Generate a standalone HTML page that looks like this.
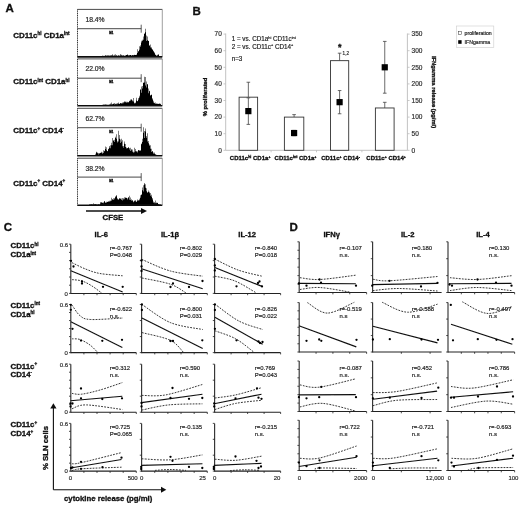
<!DOCTYPE html>
<html><head><meta charset="utf-8"><style>
html,body{margin:0;padding:0;background:#fff;overflow:hidden;}
svg{display:block;will-change:transform;}
text{font-family:"Liberation Sans", sans-serif;stroke:#222;stroke-width:0.18px;}
text[font-weight=bold]{stroke:#111;stroke-width:0.32px;}
</style></head><body>
<svg width="520" height="506" viewBox="0 0 520 506">
<defs><filter id="soft" x="0" y="0" width="1" height="1"><feGaussianBlur stdDeviation="0.35"/></filter></defs>
<rect width="520" height="506" fill="#fff"/>
<g filter="url(#soft)">
<text x="5.6" y="12.4" font-size="11.5" font-weight="bold" fill="#111" >A</text>
<line x1="77.5" y1="9.4" x2="162.3" y2="9.4" stroke="#333" stroke-width="0.9" />
<line x1="162.3" y1="9.4" x2="162.3" y2="56.9" stroke="#888" stroke-width="0.8" />
<line x1="77.5" y1="9.4" x2="77.5" y2="57.4" stroke="#222" stroke-width="0.9" stroke-dasharray="1.2 0.6"/>
<path d="M78 56.9 L78.0 56.90 L78.5 56.90 L78.5 56.90 L79.0 56.90 L79.0 56.90 L79.5 56.90 L79.5 56.90 L80.0 56.90 L80.0 56.90 L80.5 56.90 L80.5 56.90 L81.0 56.90 L81.0 56.90 L81.5 56.90 L81.5 56.90 L82.0 56.90 L82.0 56.90 L82.5 56.90 L82.5 56.90 L83.0 56.90 L83.0 56.90 L83.5 56.90 L83.5 56.90 L84.0 56.90 L84.0 56.90 L84.5 56.90 L84.5 56.90 L85.0 56.90 L85.0 56.90 L85.5 56.90 L85.5 56.90 L86.0 56.90 L86.0 56.90 L86.5 56.90 L86.5 56.90 L87.0 56.90 L87.0 56.90 L87.5 56.90 L87.5 56.90 L88.0 56.90 L88.0 56.90 L88.5 56.90 L88.5 56.90 L89.0 56.90 L89.0 56.90 L89.5 56.90 L89.5 56.90 L90.0 56.90 L90.0 56.90 L90.5 56.90 L90.5 56.90 L91.0 56.90 L91.0 56.90 L91.5 56.90 L91.5 56.90 L92.0 56.90 L92.0 56.90 L92.5 56.90 L92.5 56.90 L93.0 56.90 L93.0 56.90 L93.5 56.90 L93.5 56.90 L94.0 56.90 L94.0 56.90 L94.5 56.90 L94.5 56.90 L95.0 56.90 L95.0 56.90 L95.5 56.90 L95.5 56.90 L96.0 56.90 L96.0 56.90 L96.5 56.90 L96.5 56.90 L97.0 56.90 L97.0 56.90 L97.5 56.90 L97.5 56.90 L98.0 56.90 L98.0 56.90 L98.5 56.90 L98.5 56.90 L99.0 56.90 L99.0 56.90 L99.5 56.90 L99.5 56.90 L100.0 56.90 L100.0 56.90 L100.5 56.90 L100.5 56.90 L101.0 56.90 L101.0 56.47 L101.5 56.47 L101.5 56.26 L102.0 56.26 L102.0 55.90 L102.5 55.90 L102.5 55.38 L103.0 55.38 L103.0 55.84 L103.5 55.84 L103.5 55.93 L104.0 55.93 L104.0 55.73 L104.5 55.73 L104.5 55.99 L105.0 55.99 L105.0 55.35 L105.5 55.35 L105.5 55.55 L106.0 55.55 L106.0 55.63 L106.5 55.63 L106.5 55.42 L107.0 55.42 L107.0 55.57 L107.5 55.57 L107.5 55.61 L108.0 55.61 L108.0 55.47 L108.5 55.47 L108.5 55.58 L109.0 55.58 L109.0 55.47 L109.5 55.47 L109.5 55.82 L110.0 55.82 L110.0 55.59 L110.5 55.59 L110.5 55.48 L111.0 55.48 L111.0 55.35 L111.5 55.35 L111.5 55.52 L112.0 55.52 L112.0 55.38 L112.5 55.38 L112.5 54.32 L113.0 54.32 L113.0 55.49 L113.5 55.49 L113.5 55.71 L114.0 55.71 L114.0 55.87 L114.5 55.87 L114.5 54.87 L115.0 54.87 L115.0 55.80 L115.5 55.80 L115.5 54.32 L116.0 54.32 L116.0 55.55 L116.5 55.55 L116.5 55.36 L117.0 55.36 L117.0 55.66 L117.5 55.66 L117.5 55.79 L118.0 55.79 L118.0 55.74 L118.5 55.74 L118.5 54.96 L119.0 54.96 L119.0 55.66 L119.5 55.66 L119.5 55.47 L120.0 55.47 L120.0 54.12 L120.5 54.12 L120.5 55.39 L121.0 55.39 L121.0 55.38 L121.5 55.38 L121.5 54.81 L122.0 54.81 L122.0 55.70 L122.5 55.70 L122.5 55.25 L123.0 55.25 L123.0 55.54 L123.5 55.54 L123.5 55.24 L124.0 55.24 L124.0 55.63 L124.5 55.63 L124.5 55.70 L125.0 55.70 L125.0 55.21 L125.5 55.21 L125.5 55.69 L126.0 55.69 L126.0 54.89 L126.5 54.89 L126.5 55.09 L127.0 55.09 L127.0 54.25 L127.5 54.25 L127.5 55.04 L128.0 55.04 L128.0 55.53 L128.5 55.53 L128.5 55.16 L129.0 55.16 L129.0 55.46 L129.5 55.46 L129.5 54.97 L130.0 54.97 L130.0 55.08 L130.5 55.08 L130.5 54.99 L131.0 54.99 L131.0 55.63 L131.5 55.63 L131.5 55.13 L132.0 55.13 L132.0 54.93 L132.5 54.93 L132.5 55.35 L133.0 55.35 L133.0 55.46 L133.5 55.46 L133.5 54.92 L134.0 54.92 L134.0 54.77 L134.5 54.77 L134.5 55.07 L135.0 55.07 L135.0 54.99 L135.5 54.99 L135.5 54.94 L136.0 54.94 L136.0 54.79 L136.5 54.79 L136.5 54.79 L137.0 54.79 L137.0 53.11 L137.5 53.11 L137.5 49.30 L138.0 49.30 L138.0 51.18 L138.5 51.18 L138.5 51.33 L139.0 51.33 L139.0 49.67 L139.5 49.67 L139.5 46.27 L140.0 46.27 L140.0 46.63 L140.5 46.63 L140.5 45.22 L141.0 45.22 L141.0 40.64 L141.5 40.64 L141.5 42.46 L142.0 42.46 L142.0 41.01 L142.5 41.01 L142.5 39.66 L143.0 39.66 L143.0 39.66 L143.5 39.66 L143.5 36.50 L144.0 36.50 L144.0 33.26 L144.5 33.26 L144.5 34.06 L145.0 34.06 L145.0 32.26 L145.5 32.26 L145.5 28.64 L146.0 28.64 L146.0 35.52 L146.5 35.52 L146.5 40.95 L147.0 40.95 L147.0 40.27 L147.5 40.27 L147.5 36.53 L148.0 36.53 L148.0 41.05 L148.5 41.05 L148.5 40.78 L149.0 40.78 L149.0 45.21 L149.5 45.21 L149.5 45.67 L150.0 45.67 L150.0 44.59 L150.5 44.59 L150.5 47.42 L151.0 47.42 L151.0 47.13 L151.5 47.13 L151.5 48.52 L152.0 48.52 L152.0 49.14 L152.5 49.14 L152.5 49.70 L153.0 49.70 L153.0 50.78 L153.5 50.78 L153.5 51.46 L154.0 51.46 L154.0 52.13 L154.5 52.13 L154.5 53.16 L155.0 53.16 L155.0 54.69 L155.5 54.69 L155.5 54.67 L156.0 54.67 L156.0 55.60 L156.5 55.60 L156.5 55.83 L157.0 55.83 L157.0 55.50 L157.5 55.50 L157.5 54.70 L158.0 54.70 L158.0 53.90 L158.5 53.90 L158.5 54.94 L159.0 54.94 L159.0 55.91 L159.5 55.91 L159.5 56.38 L160.0 56.38 L160.0 56.45 L160.5 56.45 L160.5 55.93 L161.0 55.93 L161.0 56.90 L161.5 56.90 L161.5 56.90 L162.0 56.90 L162 56.9 Z" stroke="none" stroke-width="0" fill="#000" />
<line x1="77.5" y1="56.9" x2="162.3" y2="56.9" stroke="#111" stroke-width="1.6" />
<line x1="77.5" y1="28.7" x2="141.2" y2="28.7" stroke="#333" stroke-width="0.9" />
<line x1="141.2" y1="24.7" x2="141.2" y2="32.7" stroke="#333" stroke-width="0.8" />
<text x="111.3" y="33.5" font-size="2.9" font-weight="bold" text-anchor="middle" fill="#333" >M1</text>
<text x="85.4" y="21.8" font-size="6.8" fill="#222" >18.4%</text>
<line x1="77.5" y1="58.9" x2="162.3" y2="58.9" stroke="#333" stroke-width="0.9" />
<line x1="162.3" y1="58.9" x2="162.3" y2="105.8" stroke="#888" stroke-width="0.8" />
<line x1="77.5" y1="58.9" x2="77.5" y2="106.3" stroke="#222" stroke-width="0.9" stroke-dasharray="1.2 0.6"/>
<path d="M78 105.8 L78.0 105.80 L78.5 105.80 L78.5 105.80 L79.0 105.80 L79.0 105.80 L79.5 105.80 L79.5 105.80 L80.0 105.80 L80.0 105.80 L80.5 105.80 L80.5 105.80 L81.0 105.80 L81.0 105.80 L81.5 105.80 L81.5 105.80 L82.0 105.80 L82.0 105.80 L82.5 105.80 L82.5 105.80 L83.0 105.80 L83.0 105.80 L83.5 105.80 L83.5 105.80 L84.0 105.80 L84.0 105.80 L84.5 105.80 L84.5 105.80 L85.0 105.80 L85.0 105.80 L85.5 105.80 L85.5 105.80 L86.0 105.80 L86.0 105.80 L86.5 105.80 L86.5 105.80 L87.0 105.80 L87.0 105.80 L87.5 105.80 L87.5 105.80 L88.0 105.80 L88.0 105.80 L88.5 105.80 L88.5 105.80 L89.0 105.80 L89.0 105.80 L89.5 105.80 L89.5 105.80 L90.0 105.80 L90.0 105.80 L90.5 105.80 L90.5 105.80 L91.0 105.80 L91.0 105.80 L91.5 105.80 L91.5 105.80 L92.0 105.80 L92.0 105.80 L92.5 105.80 L92.5 105.80 L93.0 105.80 L93.0 105.80 L93.5 105.80 L93.5 105.80 L94.0 105.80 L94.0 105.80 L94.5 105.80 L94.5 105.80 L95.0 105.80 L95.0 105.80 L95.5 105.80 L95.5 105.80 L96.0 105.80 L96.0 105.80 L96.5 105.80 L96.5 105.80 L97.0 105.80 L97.0 105.80 L97.5 105.80 L97.5 105.80 L98.0 105.80 L98.0 105.80 L98.5 105.80 L98.5 105.80 L99.0 105.80 L99.0 105.80 L99.5 105.80 L99.5 105.80 L100.0 105.80 L100.0 105.80 L100.5 105.80 L100.5 105.80 L101.0 105.80 L101.0 105.80 L101.5 105.80 L101.5 105.80 L102.0 105.80 L102.0 105.51 L102.5 105.51 L102.5 104.70 L103.0 104.70 L103.0 104.47 L103.5 104.47 L103.5 104.70 L104.0 104.70 L104.0 104.99 L104.5 104.99 L104.5 104.25 L105.0 104.25 L105.0 104.49 L105.5 104.49 L105.5 104.54 L106.0 104.54 L106.0 104.76 L106.5 104.76 L106.5 104.50 L107.0 104.50 L107.0 104.63 L107.5 104.63 L107.5 104.82 L108.0 104.82 L108.0 104.63 L108.5 104.63 L108.5 104.73 L109.0 104.73 L109.0 104.38 L109.5 104.38 L109.5 104.49 L110.0 104.49 L110.0 103.62 L110.5 103.62 L110.5 104.39 L111.0 104.39 L111.0 102.59 L111.5 102.59 L111.5 104.39 L112.0 104.39 L112.0 104.38 L112.5 104.38 L112.5 103.93 L113.0 103.93 L113.0 104.08 L113.5 104.08 L113.5 103.59 L114.0 103.59 L114.0 104.47 L114.5 104.47 L114.5 103.08 L115.0 103.08 L115.0 103.79 L115.5 103.79 L115.5 104.24 L116.0 104.24 L116.0 104.28 L116.5 104.28 L116.5 103.57 L117.0 103.57 L117.0 104.14 L117.5 104.14 L117.5 102.88 L118.0 102.88 L118.0 103.83 L118.5 103.83 L118.5 102.51 L119.0 102.51 L119.0 103.67 L119.5 103.67 L119.5 103.97 L120.0 103.97 L120.0 103.26 L120.5 103.26 L120.5 103.06 L121.0 103.06 L121.0 103.26 L121.5 103.26 L121.5 103.46 L122.0 103.46 L122.0 103.50 L122.5 103.50 L122.5 102.61 L123.0 102.61 L123.0 103.19 L123.5 103.19 L123.5 102.07 L124.0 102.07 L124.0 102.32 L124.5 102.32 L124.5 101.35 L125.0 101.35 L125.0 102.29 L125.5 102.29 L125.5 101.55 L126.0 101.55 L126.0 101.79 L126.5 101.79 L126.5 102.78 L127.0 102.78 L127.0 101.78 L127.5 101.78 L127.5 102.49 L128.0 102.49 L128.0 102.38 L128.5 102.38 L128.5 102.04 L129.0 102.04 L129.0 101.31 L129.5 101.31 L129.5 100.71 L130.0 100.71 L130.0 100.64 L130.5 100.64 L130.5 99.40 L131.0 99.40 L131.0 99.91 L131.5 99.91 L131.5 99.11 L132.0 99.11 L132.0 101.24 L132.5 101.24 L132.5 100.14 L133.0 100.14 L133.0 101.60 L133.5 101.60 L133.5 98.05 L134.0 98.05 L134.0 102.78 L134.5 102.78 L134.5 103.52 L135.0 103.52 L135.0 102.51 L135.5 102.51 L135.5 103.32 L136.0 103.32 L136.0 100.45 L136.5 100.45 L136.5 97.64 L137.0 97.64 L137.0 101.22 L137.5 101.22 L137.5 100.92 L138.0 100.92 L138.0 99.74 L138.5 99.74 L138.5 98.06 L139.0 98.06 L139.0 97.39 L139.5 97.39 L139.5 95.85 L140.0 95.85 L140.0 89.01 L140.5 89.01 L140.5 90.12 L141.0 90.12 L141.0 92.70 L141.5 92.70 L141.5 86.56 L142.0 86.56 L142.0 88.45 L142.5 88.45 L142.5 85.99 L143.0 85.99 L143.0 82.62 L143.5 82.62 L143.5 83.02 L144.0 83.02 L144.0 82.54 L144.5 82.54 L144.5 76.65 L145.0 76.65 L145.0 77.07 L145.5 77.07 L145.5 85.55 L146.0 85.55 L146.0 87.41 L146.5 87.41 L146.5 81.38 L147.0 81.38 L147.0 84.06 L147.5 84.06 L147.5 84.52 L148.0 84.52 L148.0 88.62 L148.5 88.62 L148.5 93.33 L149.0 93.33 L149.0 91.23 L149.5 91.23 L149.5 90.70 L150.0 90.70 L150.0 95.13 L150.5 95.13 L150.5 95.42 L151.0 95.42 L151.0 95.12 L151.5 95.12 L151.5 94.52 L152.0 94.52 L152.0 98.19 L152.5 98.19 L152.5 99.53 L153.0 99.53 L153.0 100.70 L153.5 100.70 L153.5 102.48 L154.0 102.48 L154.0 103.18 L154.5 103.18 L154.5 102.73 L155.0 102.73 L155.0 102.51 L155.5 102.51 L155.5 103.96 L156.0 103.96 L156.0 103.55 L156.5 103.55 L156.5 103.75 L157.0 103.75 L157.0 103.47 L157.5 103.47 L157.5 103.96 L158.0 103.96 L158.0 103.79 L158.5 103.79 L158.5 104.09 L159.0 104.09 L159.0 103.97 L159.5 103.97 L159.5 103.24 L160.0 103.24 L160.0 104.36 L160.5 104.36 L160.5 103.72 L161.0 103.72 L161.0 105.80 L161.5 105.80 L161.5 105.80 L162.0 105.80 L162 105.8 Z" stroke="none" stroke-width="0" fill="#000" />
<line x1="77.5" y1="105.8" x2="162.3" y2="105.8" stroke="#111" stroke-width="1.6" />
<line x1="77.5" y1="78.2" x2="141.2" y2="78.2" stroke="#333" stroke-width="0.9" />
<line x1="141.2" y1="74.2" x2="141.2" y2="82.2" stroke="#333" stroke-width="0.8" />
<text x="111.3" y="83.0" font-size="2.9" font-weight="bold" text-anchor="middle" fill="#333" >M1</text>
<text x="85.4" y="71.3" font-size="6.8" fill="#222" >22.0%</text>
<line x1="77.5" y1="108.3" x2="162.3" y2="108.3" stroke="#333" stroke-width="0.9" />
<line x1="162.3" y1="108.3" x2="162.3" y2="155.8" stroke="#888" stroke-width="0.8" />
<line x1="77.5" y1="108.3" x2="77.5" y2="156.3" stroke="#222" stroke-width="0.9" stroke-dasharray="1.2 0.6"/>
<path d="M78 155.8 L78.0 155.80 L78.5 155.80 L78.5 155.80 L79.0 155.80 L79.0 155.80 L79.5 155.80 L79.5 155.80 L80.0 155.80 L80.0 155.80 L80.5 155.80 L80.5 155.80 L81.0 155.80 L81.0 155.80 L81.5 155.80 L81.5 155.80 L82.0 155.80 L82.0 155.80 L82.5 155.80 L82.5 155.80 L83.0 155.80 L83.0 155.80 L83.5 155.80 L83.5 155.80 L84.0 155.80 L84.0 155.80 L84.5 155.80 L84.5 155.80 L85.0 155.80 L85.0 155.80 L85.5 155.80 L85.5 155.80 L86.0 155.80 L86.0 155.80 L86.5 155.80 L86.5 155.80 L87.0 155.80 L87.0 155.80 L87.5 155.80 L87.5 155.80 L88.0 155.80 L88.0 155.80 L88.5 155.80 L88.5 155.80 L89.0 155.80 L89.0 155.80 L89.5 155.80 L89.5 155.80 L90.0 155.80 L90.0 155.80 L90.5 155.80 L90.5 155.80 L91.0 155.80 L91.0 155.80 L91.5 155.80 L91.5 155.80 L92.0 155.80 L92.0 155.80 L92.5 155.80 L92.5 155.80 L93.0 155.80 L93.0 155.80 L93.5 155.80 L93.5 155.80 L94.0 155.80 L94.0 155.80 L94.5 155.80 L94.5 155.80 L95.0 155.80 L95.0 155.24 L95.5 155.24 L95.5 153.76 L96.0 153.76 L96.0 151.67 L96.5 151.67 L96.5 152.39 L97.0 152.39 L97.0 153.22 L97.5 153.22 L97.5 152.57 L98.0 152.57 L98.0 154.47 L98.5 154.47 L98.5 153.10 L99.0 153.10 L99.0 152.92 L99.5 152.92 L99.5 153.63 L100.0 153.63 L100.0 152.87 L100.5 152.87 L100.5 153.09 L101.0 153.09 L101.0 151.83 L101.5 151.83 L101.5 152.81 L102.0 152.81 L102.0 152.45 L102.5 152.45 L102.5 153.84 L103.0 153.84 L103.0 153.03 L103.5 153.03 L103.5 150.36 L104.0 150.36 L104.0 151.31 L104.5 151.31 L104.5 150.82 L105.0 150.82 L105.0 149.08 L105.5 149.08 L105.5 146.54 L106.0 146.54 L106.0 147.16 L106.5 147.16 L106.5 150.19 L107.0 150.19 L107.0 150.99 L107.5 150.99 L107.5 151.18 L108.0 151.18 L108.0 148.63 L108.5 148.63 L108.5 149.13 L109.0 149.13 L109.0 147.78 L109.5 147.78 L109.5 145.94 L110.0 145.94 L110.0 148.19 L110.5 148.19 L110.5 145.13 L111.0 145.13 L111.0 145.30 L111.5 145.30 L111.5 142.77 L112.0 142.77 L112.0 145.26 L112.5 145.26 L112.5 137.88 L113.0 137.88 L113.0 139.99 L113.5 139.99 L113.5 140.95 L114.0 140.95 L114.0 139.77 L114.5 139.77 L114.5 141.94 L115.0 141.94 L115.0 137.92 L115.5 137.92 L115.5 136.67 L116.0 136.67 L116.0 138.65 L116.5 138.65 L116.5 134.35 L117.0 134.35 L117.0 142.38 L117.5 142.38 L117.5 141.33 L118.0 141.33 L118.0 141.45 L118.5 141.45 L118.5 130.73 L119.0 130.73 L119.0 138.83 L119.5 138.83 L119.5 134.96 L120.0 134.96 L120.0 142.94 L120.5 142.94 L120.5 139.48 L121.0 139.48 L121.0 138.64 L121.5 138.64 L121.5 141.76 L122.0 141.76 L122.0 140.25 L122.5 140.25 L122.5 146.17 L123.0 146.17 L123.0 146.12 L123.5 146.12 L123.5 147.80 L124.0 147.80 L124.0 143.77 L124.5 143.77 L124.5 141.58 L125.0 141.58 L125.0 147.06 L125.5 147.06 L125.5 143.89 L126.0 143.89 L126.0 147.50 L126.5 147.50 L126.5 148.52 L127.0 148.52 L127.0 148.29 L127.5 148.29 L127.5 147.97 L128.0 147.97 L128.0 146.98 L128.5 146.98 L128.5 147.77 L129.0 147.77 L129.0 149.58 L129.5 149.58 L129.5 147.95 L130.0 147.95 L130.0 150.99 L130.5 150.99 L130.5 147.73 L131.0 147.73 L131.0 150.24 L131.5 150.24 L131.5 149.08 L132.0 149.08 L132.0 149.50 L132.5 149.50 L132.5 151.84 L133.0 151.84 L133.0 152.63 L133.5 152.63 L133.5 151.72 L134.0 151.72 L134.0 147.69 L134.5 147.69 L134.5 152.14 L135.0 152.14 L135.0 151.34 L135.5 151.34 L135.5 148.97 L136.0 148.97 L136.0 151.67 L136.5 151.67 L136.5 150.94 L137.0 150.94 L137.0 151.24 L137.5 151.24 L137.5 152.47 L138.0 152.47 L138.0 150.15 L138.5 150.15 L138.5 150.02 L139.0 150.02 L139.0 150.59 L139.5 150.59 L139.5 150.58 L140.0 150.58 L140.0 150.15 L140.5 150.15 L140.5 150.70 L141.0 150.70 L141.0 144.35 L141.5 144.35 L141.5 143.40 L142.0 143.40 L142.0 142.12 L142.5 142.12 L142.5 138.77 L143.0 138.77 L143.0 132.83 L143.5 132.83 L143.5 127.23 L144.0 127.23 L144.0 137.92 L144.5 137.92 L144.5 131.04 L145.0 131.04 L145.0 131.58 L145.5 131.58 L145.5 128.54 L146.0 128.54 L146.0 136.02 L146.5 136.02 L146.5 137.78 L147.0 137.78 L147.0 133.17 L147.5 133.17 L147.5 141.54 L148.0 141.54 L148.0 141.11 L148.5 141.11 L148.5 143.21 L149.0 143.21 L149.0 144.62 L149.5 144.62 L149.5 145.85 L150.0 145.85 L150.0 145.24 L150.5 145.24 L150.5 148.65 L151.0 148.65 L151.0 148.81 L151.5 148.81 L151.5 151.89 L152.0 151.89 L152.0 151.05 L152.5 151.05 L152.5 151.58 L153.0 151.58 L153.0 152.59 L153.5 152.59 L153.5 153.66 L154.0 153.66 L154.0 152.39 L154.5 152.39 L154.5 153.72 L155.0 153.72 L155.0 154.47 L155.5 154.47 L155.5 154.25 L156.0 154.25 L156.0 154.82 L156.5 154.82 L156.5 155.04 L157.0 155.04 L157.0 155.17 L157.5 155.17 L157.5 155.18 L158.0 155.18 L158.0 155.21 L158.5 155.21 L158.5 155.40 L159.0 155.40 L159.0 155.19 L159.5 155.19 L159.5 155.31 L160.0 155.31 L160.0 155.40 L160.5 155.40 L160.5 155.22 L161.0 155.22 L161.0 155.80 L161.5 155.80 L161.5 155.80 L162.0 155.80 L162 155.8 Z" stroke="none" stroke-width="0" fill="#000" />
<line x1="77.5" y1="155.8" x2="162.3" y2="155.8" stroke="#111" stroke-width="1.6" />
<line x1="77.5" y1="127.7" x2="141.2" y2="127.7" stroke="#333" stroke-width="0.9" />
<line x1="141.2" y1="123.7" x2="141.2" y2="131.7" stroke="#333" stroke-width="0.8" />
<text x="111.3" y="132.5" font-size="2.9" font-weight="bold" text-anchor="middle" fill="#333" >M1</text>
<text x="85.4" y="120.7" font-size="6.8" fill="#222" >62.7%</text>
<line x1="77.5" y1="158.2" x2="162.3" y2="158.2" stroke="#333" stroke-width="0.9" />
<line x1="162.3" y1="158.2" x2="162.3" y2="205.2" stroke="#888" stroke-width="0.8" />
<line x1="77.5" y1="158.2" x2="77.5" y2="205.7" stroke="#222" stroke-width="0.9" stroke-dasharray="1.2 0.6"/>
<path d="M78 205.2 L78.0 205.20 L78.5 205.20 L78.5 205.20 L79.0 205.20 L79.0 205.20 L79.5 205.20 L79.5 205.20 L80.0 205.20 L80.0 205.20 L80.5 205.20 L80.5 205.20 L81.0 205.20 L81.0 205.20 L81.5 205.20 L81.5 205.20 L82.0 205.20 L82.0 205.20 L82.5 205.20 L82.5 205.20 L83.0 205.20 L83.0 205.20 L83.5 205.20 L83.5 205.20 L84.0 205.20 L84.0 205.20 L84.5 205.20 L84.5 205.20 L85.0 205.20 L85.0 205.20 L85.5 205.20 L85.5 205.20 L86.0 205.20 L86.0 205.20 L86.5 205.20 L86.5 205.20 L87.0 205.20 L87.0 205.20 L87.5 205.20 L87.5 205.20 L88.0 205.20 L88.0 205.09 L88.5 205.09 L88.5 204.88 L89.0 204.88 L89.0 204.61 L89.5 204.61 L89.5 204.60 L90.0 204.60 L90.0 204.43 L90.5 204.43 L90.5 204.34 L91.0 204.34 L91.0 204.00 L91.5 204.00 L91.5 204.48 L92.0 204.48 L92.0 204.38 L92.5 204.38 L92.5 204.23 L93.0 204.23 L93.0 204.50 L93.5 204.50 L93.5 203.17 L94.0 203.17 L94.0 204.12 L94.5 204.12 L94.5 204.44 L95.0 204.44 L95.0 204.14 L95.5 204.14 L95.5 204.03 L96.0 204.03 L96.0 204.38 L96.5 204.38 L96.5 204.16 L97.0 204.16 L97.0 204.46 L97.5 204.46 L97.5 204.44 L98.0 204.44 L98.0 203.98 L98.5 203.98 L98.5 204.46 L99.0 204.46 L99.0 204.16 L99.5 204.16 L99.5 204.47 L100.0 204.47 L100.0 203.55 L100.5 203.55 L100.5 202.06 L101.0 202.06 L101.0 202.24 L101.5 202.24 L101.5 202.62 L102.0 202.62 L102.0 202.85 L102.5 202.85 L102.5 202.84 L103.0 202.84 L103.0 203.16 L103.5 203.16 L103.5 202.31 L104.0 202.31 L104.0 201.57 L104.5 201.57 L104.5 201.01 L105.0 201.01 L105.0 202.32 L105.5 202.32 L105.5 202.91 L106.0 202.91 L106.0 201.73 L106.5 201.73 L106.5 202.77 L107.0 202.77 L107.0 201.91 L107.5 201.91 L107.5 201.63 L108.0 201.63 L108.0 200.90 L108.5 200.90 L108.5 202.09 L109.0 202.09 L109.0 200.63 L109.5 200.63 L109.5 201.87 L110.0 201.87 L110.0 201.24 L110.5 201.24 L110.5 200.45 L111.0 200.45 L111.0 197.74 L111.5 197.74 L111.5 200.81 L112.0 200.81 L112.0 199.07 L112.5 199.07 L112.5 199.74 L113.0 199.74 L113.0 200.12 L113.5 200.12 L113.5 198.31 L114.0 198.31 L114.0 197.92 L114.5 197.92 L114.5 199.13 L115.0 199.13 L115.0 197.26 L115.5 197.26 L115.5 196.16 L116.0 196.16 L116.0 194.89 L116.5 194.89 L116.5 196.28 L117.0 196.28 L117.0 198.36 L117.5 198.36 L117.5 199.14 L118.0 199.14 L118.0 199.50 L118.5 199.50 L118.5 199.61 L119.0 199.61 L119.0 198.46 L119.5 198.46 L119.5 198.24 L120.0 198.24 L120.0 198.75 L120.5 198.75 L120.5 198.38 L121.0 198.38 L121.0 200.05 L121.5 200.05 L121.5 198.54 L122.0 198.54 L122.0 197.95 L122.5 197.95 L122.5 200.47 L123.0 200.47 L123.0 198.35 L123.5 198.35 L123.5 199.58 L124.0 199.58 L124.0 199.21 L124.5 199.21 L124.5 197.21 L125.0 197.21 L125.0 198.01 L125.5 198.01 L125.5 197.31 L126.0 197.31 L126.0 197.87 L126.5 197.87 L126.5 197.96 L127.0 197.96 L127.0 198.37 L127.5 198.37 L127.5 199.49 L128.0 199.49 L128.0 197.32 L128.5 197.32 L128.5 197.62 L129.0 197.62 L129.0 195.65 L129.5 195.65 L129.5 199.80 L130.0 199.80 L130.0 197.50 L130.5 197.50 L130.5 199.91 L131.0 199.91 L131.0 199.22 L131.5 199.22 L131.5 200.86 L132.0 200.86 L132.0 199.89 L132.5 199.89 L132.5 200.67 L133.0 200.67 L133.0 201.49 L133.5 201.49 L133.5 202.23 L134.0 202.23 L134.0 201.26 L134.5 201.26 L134.5 200.38 L135.0 200.38 L135.0 201.18 L135.5 201.18 L135.5 199.88 L136.0 199.88 L136.0 201.90 L136.5 201.90 L136.5 201.56 L137.0 201.56 L137.0 199.38 L137.5 199.38 L137.5 200.83 L138.0 200.83 L138.0 200.70 L138.5 200.70 L138.5 199.92 L139.0 199.92 L139.0 198.77 L139.5 198.77 L139.5 200.35 L140.0 200.35 L140.0 195.25 L140.5 195.25 L140.5 197.64 L141.0 197.64 L141.0 195.05 L141.5 195.05 L141.5 194.23 L142.0 194.23 L142.0 190.18 L142.5 190.18 L142.5 187.57 L143.0 187.57 L143.0 191.41 L143.5 191.41 L143.5 185.14 L144.0 185.14 L144.0 182.88 L144.5 182.88 L144.5 184.60 L145.0 184.60 L145.0 184.14 L145.5 184.14 L145.5 187.74 L146.0 187.74 L146.0 188.16 L146.5 188.16 L146.5 191.31 L147.0 191.31 L147.0 192.63 L147.5 192.63 L147.5 192.13 L148.0 192.13 L148.0 191.92 L148.5 191.92 L148.5 190.56 L149.0 190.56 L149.0 193.19 L149.5 193.19 L149.5 191.81 L150.0 191.81 L150.0 193.12 L150.5 193.12 L150.5 195.80 L151.0 195.80 L151.0 194.69 L151.5 194.69 L151.5 196.70 L152.0 196.70 L152.0 199.47 L152.5 199.47 L152.5 198.01 L153.0 198.01 L153.0 201.55 L153.5 201.55 L153.5 202.66 L154.0 202.66 L154.0 201.95 L154.5 201.95 L154.5 203.19 L155.0 203.19 L155.0 203.29 L155.5 203.29 L155.5 200.49 L156.0 200.49 L156.0 203.36 L156.5 203.36 L156.5 202.56 L157.0 202.56 L157.0 202.74 L157.5 202.74 L157.5 203.09 L158.0 203.09 L158.0 203.98 L158.5 203.98 L158.5 204.34 L159.0 204.34 L159.0 204.51 L159.5 204.51 L159.5 204.32 L160.0 204.32 L160.0 204.42 L160.5 204.42 L160.5 204.57 L161.0 204.57 L161.0 205.20 L161.5 205.20 L161.5 205.20 L162.0 205.20 L162 205.2 Z" stroke="none" stroke-width="0" fill="#000" />
<line x1="77.5" y1="205.2" x2="162.3" y2="205.2" stroke="#111" stroke-width="1.6" />
<line x1="77.5" y1="177.1" x2="141.2" y2="177.1" stroke="#333" stroke-width="0.9" />
<line x1="141.2" y1="173.1" x2="141.2" y2="181.1" stroke="#333" stroke-width="0.8" />
<text x="111.3" y="181.9" font-size="2.9" font-weight="bold" text-anchor="middle" fill="#333" >M1</text>
<text x="85.4" y="170.6" font-size="6.8" fill="#222" >38.2%</text>
<text x="13.2" y="37.9" font-size="7.95" font-weight="bold" fill="#111">CD11c<tspan font-size="4.5" dy="-2.50">hi</tspan><tspan dy="2.50"> CD1a</tspan><tspan font-size="4.5" dy="-2.50">int</tspan></text>
<text x="13.2" y="84.0" font-size="7.95" font-weight="bold" fill="#111">CD11c<tspan font-size="4.5" dy="-2.50">int</tspan><tspan dy="2.50"> CD1a</tspan><tspan font-size="4.5" dy="-2.50">hi</tspan></text>
<text x="13.2" y="133.0" font-size="7.95" font-weight="bold" fill="#111">CD11c<tspan font-size="4.5" dy="-3.38">+</tspan><tspan dy="3.38"> CD14</tspan><tspan font-size="4.5" dy="-3.38">-</tspan></text>
<text x="13.2" y="185.6" font-size="7.95" font-weight="bold" fill="#111">CD11c<tspan font-size="4.5" dy="-3.38">+</tspan><tspan dy="3.38"> CD14</tspan><tspan font-size="4.5" dy="-3.38">+</tspan></text>
<line x1="86" y1="211" x2="143" y2="211" stroke="#111" stroke-width="1.6" />
<path d="M141 208 L147 211 L141 214 Z" stroke="none" stroke-width="0" fill="#111" />
<text x="112.9" y="220" font-size="7.8" font-weight="bold" text-anchor="middle" fill="#111" >CFSE</text>
<text x="192.6" y="14.7" font-size="11.5" font-weight="bold" fill="#111" >B</text>
<line x1="225.7" y1="33.5" x2="225.7" y2="150.3" stroke="#bbb" stroke-width="0.9" />
<line x1="407.4" y1="33.5" x2="407.4" y2="150.3" stroke="#bbb" stroke-width="0.9" />
<line x1="225.7" y1="150.3" x2="407.4" y2="150.3" stroke="#bbb" stroke-width="0.9" />
<line x1="223.5" y1="150.3" x2="225.7" y2="150.3" stroke="#bbb" stroke-width="0.8" />
<text x="221.8" y="152.60000000000002" font-size="6.5" text-anchor="end" fill="#333" >0</text>
<line x1="223.5" y1="133.70000000000002" x2="225.7" y2="133.70000000000002" stroke="#bbb" stroke-width="0.8" />
<text x="221.8" y="136.00000000000003" font-size="6.5" text-anchor="end" fill="#333" >10</text>
<line x1="223.5" y1="117.10000000000001" x2="225.7" y2="117.10000000000001" stroke="#bbb" stroke-width="0.8" />
<text x="221.8" y="119.4" font-size="6.5" text-anchor="end" fill="#333" >20</text>
<line x1="223.5" y1="100.5" x2="225.7" y2="100.5" stroke="#bbb" stroke-width="0.8" />
<text x="221.8" y="102.8" font-size="6.5" text-anchor="end" fill="#333" >30</text>
<line x1="223.5" y1="83.9" x2="225.7" y2="83.9" stroke="#bbb" stroke-width="0.8" />
<text x="221.8" y="86.2" font-size="6.5" text-anchor="end" fill="#333" >40</text>
<line x1="223.5" y1="67.30000000000001" x2="225.7" y2="67.30000000000001" stroke="#bbb" stroke-width="0.8" />
<text x="221.8" y="69.60000000000001" font-size="6.5" text-anchor="end" fill="#333" >50</text>
<line x1="223.5" y1="50.7" x2="225.7" y2="50.7" stroke="#bbb" stroke-width="0.8" />
<text x="221.8" y="53.0" font-size="6.5" text-anchor="end" fill="#333" >60</text>
<line x1="223.5" y1="34.099999999999994" x2="225.7" y2="34.099999999999994" stroke="#bbb" stroke-width="0.8" />
<text x="221.8" y="36.39999999999999" font-size="6.5" text-anchor="end" fill="#333" >70</text>
<line x1="407.4" y1="150.3" x2="409.6" y2="150.3" stroke="#bbb" stroke-width="0.8" />
<text x="411.6" y="152.60000000000002" font-size="6.5" fill="#333" >0</text>
<line x1="407.4" y1="133.70000000000002" x2="409.6" y2="133.70000000000002" stroke="#bbb" stroke-width="0.8" />
<text x="411.6" y="136.00000000000003" font-size="6.5" fill="#333" >50</text>
<line x1="407.4" y1="117.10000000000001" x2="409.6" y2="117.10000000000001" stroke="#bbb" stroke-width="0.8" />
<text x="411.6" y="119.4" font-size="6.5" fill="#333" >100</text>
<line x1="407.4" y1="100.5" x2="409.6" y2="100.5" stroke="#bbb" stroke-width="0.8" />
<text x="411.6" y="102.8" font-size="6.5" fill="#333" >150</text>
<line x1="407.4" y1="83.9" x2="409.6" y2="83.9" stroke="#bbb" stroke-width="0.8" />
<text x="411.6" y="86.2" font-size="6.5" fill="#333" >200</text>
<line x1="407.4" y1="67.30000000000001" x2="409.6" y2="67.30000000000001" stroke="#bbb" stroke-width="0.8" />
<text x="411.6" y="69.60000000000001" font-size="6.5" fill="#333" >250</text>
<line x1="407.4" y1="50.7" x2="409.6" y2="50.7" stroke="#bbb" stroke-width="0.8" />
<text x="411.6" y="53.0" font-size="6.5" fill="#333" >300</text>
<line x1="407.4" y1="34.10000000000001" x2="409.6" y2="34.10000000000001" stroke="#bbb" stroke-width="0.8" />
<text x="411.6" y="36.400000000000006" font-size="6.5" fill="#333" >350</text>
<line x1="271.1" y1="150.3" x2="271.1" y2="152.3" stroke="#bbb" stroke-width="0.8" />
<line x1="316.5" y1="150.3" x2="316.5" y2="152.3" stroke="#bbb" stroke-width="0.8" />
<line x1="361.9" y1="150.3" x2="361.9" y2="152.3" stroke="#bbb" stroke-width="0.8" />
<text x="0" y="0" font-size="5.8" font-weight="bold" text-anchor="middle" fill="#111" transform="translate(207 97) rotate(-90)">% proliferated</text>
<text x="0" y="0" font-size="5.8" font-weight="bold" text-anchor="middle" fill="#111" transform="translate(431.5 92) rotate(90)">IFNgamma release (pg/ml)</text>
<rect x="239.1" y="97.18" width="18.50" height="53.12" fill="#fff" stroke="#333" stroke-width="0.9"/>
<line x1="248.35000000000002" y1="82.24000000000001" x2="248.35000000000002" y2="97.18" stroke="#444" stroke-width="0.8" />
<line x1="246.55" y1="82.24000000000001" x2="250.15000000000003" y2="82.24000000000001" stroke="#444" stroke-width="0.8" />
<rect x="284.4" y="117.10" width="19.40" height="33.20" fill="#fff" stroke="#333" stroke-width="0.9"/>
<line x1="294.1" y1="114.61000000000001" x2="294.1" y2="117.10000000000001" stroke="#444" stroke-width="0.8" />
<line x1="292.3" y1="114.61000000000001" x2="295.90000000000003" y2="114.61000000000001" stroke="#444" stroke-width="0.8" />
<rect x="330.5" y="60.66" width="18.20" height="89.64" fill="#fff" stroke="#333" stroke-width="0.9"/>
<line x1="339.6" y1="53.19" x2="339.6" y2="60.66" stroke="#444" stroke-width="0.8" />
<line x1="337.8" y1="53.19" x2="341.40000000000003" y2="53.19" stroke="#444" stroke-width="0.8" />
<rect x="375.4" y="107.97" width="18.70" height="42.33" fill="#fff" stroke="#333" stroke-width="0.9"/>
<line x1="384.75" y1="102.326" x2="384.75" y2="107.97" stroke="#444" stroke-width="0.8" />
<line x1="382.95" y1="102.326" x2="386.55" y2="102.326" stroke="#444" stroke-width="0.8" />
<line x1="248.35000000000002" y1="97.84400000000001" x2="248.35000000000002" y2="124.40400000000001" stroke="#444" stroke-width="0.8" />
<line x1="246.55" y1="97.84400000000001" x2="250.15000000000003" y2="97.84400000000001" stroke="#444" stroke-width="0.8" />
<line x1="246.55" y1="124.40400000000001" x2="250.15000000000003" y2="124.40400000000001" stroke="#444" stroke-width="0.8" />
<rect x="245.25" y="108.02" width="6.2" height="6.2" fill="#000"/>
<line x1="294.1" y1="130.38" x2="294.1" y2="135.692" stroke="#444" stroke-width="0.8" />
<line x1="292.3" y1="130.38" x2="295.90000000000003" y2="130.38" stroke="#444" stroke-width="0.8" />
<line x1="292.3" y1="135.692" x2="295.90000000000003" y2="135.692" stroke="#444" stroke-width="0.8" />
<rect x="291.00" y="129.94" width="6.2" height="6.2" fill="#000"/>
<line x1="339.6" y1="90.54" x2="339.6" y2="113.78000000000002" stroke="#444" stroke-width="0.8" />
<line x1="337.8" y1="90.54" x2="341.40000000000003" y2="90.54" stroke="#444" stroke-width="0.8" />
<line x1="337.8" y1="113.78000000000002" x2="341.40000000000003" y2="113.78000000000002" stroke="#444" stroke-width="0.8" />
<rect x="336.50" y="99.06" width="6.2" height="6.2" fill="#000"/>
<line x1="384.75" y1="41.40400000000001" x2="384.75" y2="93.19600000000001" stroke="#444" stroke-width="0.8" />
<line x1="382.95" y1="41.40400000000001" x2="386.55" y2="41.40400000000001" stroke="#444" stroke-width="0.8" />
<line x1="382.95" y1="93.19600000000001" x2="386.55" y2="93.19600000000001" stroke="#444" stroke-width="0.8" />
<rect x="381.65" y="64.20" width="6.2" height="6.2" fill="#000"/>
<text x="339.8" y="49.5" font-size="9" font-weight="bold" text-anchor="middle" fill="#111" >*</text>
<text x="342.6" y="55.2" font-size="4.6" fill="#333" >1,2</text>
<rect x="456.4" y="26" width="37.4" height="21.5" fill="#fff" stroke="#ccc" stroke-width="0.6"/>
<rect x="458.3" y="31.4" width="3.2" height="3.2" fill="#fff" stroke="#333" stroke-width="0.5"/>
<text x="464.6" y="35.0" font-size="5.2" fill="#222" >proliferation</text>
<rect x="458.2" y="40.2" width="3.4" height="3.6" fill="#000"/>
<text x="464.6" y="44.0" font-size="5.2" fill="#222" >IFNgamma</text>
<text x="231.7" y="41.4" font-size="6.3" fill="#222">1 = vs. CD1a<tspan font-size="3.8" dy="-2.4">hi</tspan><tspan dy="2.4"> CD11c</tspan><tspan font-size="3.8" dy="-2.4">int</tspan></text>
<text x="231.7" y="48.5" font-size="6.3" fill="#222">2 = vs. CD11c<tspan font-size="3.8" dy="-2.4">+</tspan><tspan dy="2.4"> CD14</tspan><tspan font-size="3.8" dy="-2.4">+</tspan></text>
<text x="231.7" y="60.7" font-size="6.3" fill="#222" >n=3</text>
<text x="229.8" y="160.2" font-size="6" font-weight="bold" fill="#111">CD11c<tspan font-size="3.6" dy="-2.00">hi</tspan><tspan dy="2.00"> CD1a</tspan><tspan font-size="3.6" dy="-2.70">+</tspan></text>
<text x="274.6" y="160.2" font-size="6" font-weight="bold" fill="#111">CD11c<tspan font-size="3.6" dy="-2.00">int</tspan><tspan dy="2.00"> CD1a</tspan><tspan font-size="3.6" dy="-2.70">+</tspan></text>
<text x="321.2" y="160.2" font-size="6" font-weight="bold" fill="#111">CD11c<tspan font-size="3.6" dy="-2.70">+</tspan><tspan dy="2.70"> CD14</tspan><tspan font-size="3.6" dy="-2.70">-</tspan></text>
<text x="366.3" y="160.2" font-size="6" font-weight="bold" fill="#111">CD11c<tspan font-size="3.6" dy="-2.70">+</tspan><tspan dy="2.70"> CD14</tspan><tspan font-size="3.6" dy="-2.70">+</tspan></text>
<text x="3.8" y="231" font-size="11.5" font-weight="bold" fill="#111" >C</text>
<text x="289.6" y="231.2" font-size="11.5" font-weight="bold" fill="#111" >D</text>
<text x="101.3" y="237.1" font-size="7.6" font-weight="bold" text-anchor="middle" fill="#111" >IL-6</text>
<text x="170" y="237.1" font-size="7.6" font-weight="bold" text-anchor="middle" fill="#111" >IL-1&#946;</text>
<text x="247.2" y="237.1" font-size="7.6" font-weight="bold" text-anchor="middle" fill="#111" >IL-12</text>
<text x="331.7" y="237.1" font-size="7.6" font-weight="bold" text-anchor="middle" fill="#111" >IFN&#947;</text>
<text x="407.7" y="237.1" font-size="7.6" font-weight="bold" text-anchor="middle" fill="#111" >IL-2</text>
<text x="483" y="237.1" font-size="7.6" font-weight="bold" text-anchor="middle" fill="#111" >IL-4</text>
<text x="10.5" y="248.3" font-size="7.85" font-weight="bold" fill="#111">CD11c<tspan font-size="4.5" dy="-2.50">hi</tspan></text>
<text x="10.5" y="257.0" font-size="7.85" font-weight="bold" fill="#111">CD1a<tspan font-size="4.5" dy="-2.50">int</tspan></text>
<text x="10.5" y="307.8" font-size="7.85" font-weight="bold" fill="#111">CD11c<tspan font-size="4.5" dy="-2.50">int</tspan></text>
<text x="10.5" y="316.5" font-size="7.85" font-weight="bold" fill="#111">CD1a<tspan font-size="4.5" dy="-2.50">hi</tspan></text>
<text x="10.5" y="368.7" font-size="7.85" font-weight="bold" fill="#111">CD11c<tspan font-size="4.5" dy="-3.38">+</tspan></text>
<text x="10.5" y="377.4" font-size="7.85" font-weight="bold" fill="#111">CD14<tspan font-size="4.5" dy="-3.38">-</tspan></text>
<text x="10.5" y="427.0" font-size="7.85" font-weight="bold" fill="#111">CD11c<tspan font-size="4.5" dy="-3.38">+</tspan></text>
<text x="10.5" y="436.2" font-size="7.85" font-weight="bold" fill="#111">CD14<tspan font-size="4.5" dy="-3.38">+</tspan></text>
<line x1="53.4" y1="407" x2="53.4" y2="489.8" stroke="#111" stroke-width="1.1" />
<line x1="53.4" y1="489.8" x2="162" y2="489.8" stroke="#111" stroke-width="1.1" />
<path d="M50.3 408.6 L53.4 403.3 L56.5 408.6 Z" stroke="none" stroke-width="0" fill="#111" />
<path d="M161 486.8 L166.3 489.8 L161 492.8 Z" stroke="none" stroke-width="0" fill="#111" />
<text x="0" y="0" font-size="7.8" font-weight="bold" text-anchor="middle" fill="#111" transform="translate(48.3 448) rotate(-90)">% SLN cells</text>
<text x="108.2" y="500.8" font-size="7.75" font-weight="bold" text-anchor="middle" fill="#111" >cytokine release (pg/ml)</text>
<line x1="70.8" y1="244.2" x2="70.8" y2="293.95" stroke="#333" stroke-width="1.15" />
<line x1="70.8" y1="293.4" x2="136.3" y2="293.4" stroke="#222" stroke-width="1.05" />
<line x1="69.0" y1="293.4" x2="70.8" y2="293.4" stroke="#222" stroke-width="0.8" />
<line x1="69.0" y1="285.2" x2="70.8" y2="285.2" stroke="#222" stroke-width="0.8" />
<line x1="69.0" y1="277.0" x2="70.8" y2="277.0" stroke="#222" stroke-width="0.8" />
<line x1="69.0" y1="268.79999999999995" x2="70.8" y2="268.79999999999995" stroke="#222" stroke-width="0.8" />
<line x1="69.0" y1="260.59999999999997" x2="70.8" y2="260.59999999999997" stroke="#222" stroke-width="0.8" />
<line x1="69.0" y1="252.39999999999998" x2="70.8" y2="252.39999999999998" stroke="#222" stroke-width="0.8" />
<line x1="69.0" y1="244.2" x2="70.8" y2="244.2" stroke="#222" stroke-width="0.8" />
<line x1="83.9" y1="293.4" x2="83.9" y2="295.2" stroke="#222" stroke-width="0.8" />
<line x1="97.0" y1="293.4" x2="97.0" y2="295.2" stroke="#222" stroke-width="0.8" />
<line x1="110.1" y1="293.4" x2="110.1" y2="295.2" stroke="#222" stroke-width="0.8" />
<line x1="123.2" y1="293.4" x2="123.2" y2="295.2" stroke="#222" stroke-width="0.8" />
<line x1="136.3" y1="293.4" x2="136.3" y2="295.2" stroke="#222" stroke-width="0.8" />
<text x="68.2" y="246.5" font-size="6" text-anchor="end" fill="#333" >0.6</text>
<text x="67.8" y="295.59999999999997" font-size="6" text-anchor="end" fill="#333" >0</text>
<line x1="70.8" y1="304.5" x2="70.8" y2="353.15000000000003" stroke="#333" stroke-width="1.15" />
<line x1="70.8" y1="352.6" x2="136.3" y2="352.6" stroke="#222" stroke-width="1.05" />
<line x1="69.0" y1="352.6" x2="70.8" y2="352.6" stroke="#222" stroke-width="0.8" />
<line x1="69.0" y1="344.58333333333337" x2="70.8" y2="344.58333333333337" stroke="#222" stroke-width="0.8" />
<line x1="69.0" y1="336.56666666666666" x2="70.8" y2="336.56666666666666" stroke="#222" stroke-width="0.8" />
<line x1="69.0" y1="328.55" x2="70.8" y2="328.55" stroke="#222" stroke-width="0.8" />
<line x1="69.0" y1="320.53333333333336" x2="70.8" y2="320.53333333333336" stroke="#222" stroke-width="0.8" />
<line x1="69.0" y1="312.51666666666665" x2="70.8" y2="312.51666666666665" stroke="#222" stroke-width="0.8" />
<line x1="69.0" y1="304.5" x2="70.8" y2="304.5" stroke="#222" stroke-width="0.8" />
<line x1="83.9" y1="352.6" x2="83.9" y2="354.40000000000003" stroke="#222" stroke-width="0.8" />
<line x1="97.0" y1="352.6" x2="97.0" y2="354.40000000000003" stroke="#222" stroke-width="0.8" />
<line x1="110.1" y1="352.6" x2="110.1" y2="354.40000000000003" stroke="#222" stroke-width="0.8" />
<line x1="123.2" y1="352.6" x2="123.2" y2="354.40000000000003" stroke="#222" stroke-width="0.8" />
<line x1="136.3" y1="352.6" x2="136.3" y2="354.40000000000003" stroke="#222" stroke-width="0.8" />
<text x="68.2" y="306.8" font-size="6" text-anchor="end" fill="#333" >0.6</text>
<text x="67.8" y="354.8" font-size="6" text-anchor="end" fill="#333" >0</text>
<line x1="70.8" y1="364.2" x2="70.8" y2="412.75" stroke="#333" stroke-width="1.15" />
<line x1="70.8" y1="412.2" x2="136.3" y2="412.2" stroke="#222" stroke-width="1.05" />
<line x1="69.0" y1="412.2" x2="70.8" y2="412.2" stroke="#222" stroke-width="0.8" />
<line x1="69.0" y1="404.2" x2="70.8" y2="404.2" stroke="#222" stroke-width="0.8" />
<line x1="69.0" y1="396.2" x2="70.8" y2="396.2" stroke="#222" stroke-width="0.8" />
<line x1="69.0" y1="388.2" x2="70.8" y2="388.2" stroke="#222" stroke-width="0.8" />
<line x1="69.0" y1="380.2" x2="70.8" y2="380.2" stroke="#222" stroke-width="0.8" />
<line x1="69.0" y1="372.2" x2="70.8" y2="372.2" stroke="#222" stroke-width="0.8" />
<line x1="69.0" y1="364.2" x2="70.8" y2="364.2" stroke="#222" stroke-width="0.8" />
<line x1="83.9" y1="412.2" x2="83.9" y2="414.0" stroke="#222" stroke-width="0.8" />
<line x1="97.0" y1="412.2" x2="97.0" y2="414.0" stroke="#222" stroke-width="0.8" />
<line x1="110.1" y1="412.2" x2="110.1" y2="414.0" stroke="#222" stroke-width="0.8" />
<line x1="123.2" y1="412.2" x2="123.2" y2="414.0" stroke="#222" stroke-width="0.8" />
<line x1="136.3" y1="412.2" x2="136.3" y2="414.0" stroke="#222" stroke-width="0.8" />
<text x="68.2" y="366.5" font-size="6" text-anchor="end" fill="#333" >0.6</text>
<text x="67.8" y="414.4" font-size="6" text-anchor="end" fill="#333" >0</text>
<line x1="70.8" y1="423.4" x2="70.8" y2="471.65000000000003" stroke="#333" stroke-width="1.15" />
<line x1="70.8" y1="471.1" x2="136.3" y2="471.1" stroke="#222" stroke-width="1.05" />
<line x1="69.0" y1="471.1" x2="70.8" y2="471.1" stroke="#222" stroke-width="0.8" />
<line x1="69.0" y1="463.15000000000003" x2="70.8" y2="463.15000000000003" stroke="#222" stroke-width="0.8" />
<line x1="69.0" y1="455.2" x2="70.8" y2="455.2" stroke="#222" stroke-width="0.8" />
<line x1="69.0" y1="447.25" x2="70.8" y2="447.25" stroke="#222" stroke-width="0.8" />
<line x1="69.0" y1="439.3" x2="70.8" y2="439.3" stroke="#222" stroke-width="0.8" />
<line x1="69.0" y1="431.34999999999997" x2="70.8" y2="431.34999999999997" stroke="#222" stroke-width="0.8" />
<line x1="69.0" y1="423.4" x2="70.8" y2="423.4" stroke="#222" stroke-width="0.8" />
<line x1="83.9" y1="471.1" x2="83.9" y2="472.90000000000003" stroke="#222" stroke-width="0.8" />
<line x1="97.0" y1="471.1" x2="97.0" y2="472.90000000000003" stroke="#222" stroke-width="0.8" />
<line x1="110.1" y1="471.1" x2="110.1" y2="472.90000000000003" stroke="#222" stroke-width="0.8" />
<line x1="123.2" y1="471.1" x2="123.2" y2="472.90000000000003" stroke="#222" stroke-width="0.8" />
<line x1="136.3" y1="471.1" x2="136.3" y2="472.90000000000003" stroke="#222" stroke-width="0.8" />
<text x="68.2" y="425.7" font-size="6" text-anchor="end" fill="#333" >0.6</text>
<text x="67.8" y="473.3" font-size="6" text-anchor="end" fill="#333" >0</text>
<line x1="141.6" y1="244.2" x2="141.6" y2="293.95" stroke="#333" stroke-width="1.15" />
<line x1="141.6" y1="293.4" x2="207.3" y2="293.4" stroke="#222" stroke-width="1.05" />
<line x1="139.79999999999998" y1="293.4" x2="141.6" y2="293.4" stroke="#222" stroke-width="0.8" />
<line x1="139.79999999999998" y1="277.0" x2="141.6" y2="277.0" stroke="#222" stroke-width="0.8" />
<line x1="139.79999999999998" y1="260.59999999999997" x2="141.6" y2="260.59999999999997" stroke="#222" stroke-width="0.8" />
<line x1="139.79999999999998" y1="244.2" x2="141.6" y2="244.2" stroke="#222" stroke-width="0.8" />
<line x1="154.74" y1="293.4" x2="154.74" y2="295.2" stroke="#222" stroke-width="0.8" />
<line x1="167.88" y1="293.4" x2="167.88" y2="295.2" stroke="#222" stroke-width="0.8" />
<line x1="181.01999999999998" y1="293.4" x2="181.01999999999998" y2="295.2" stroke="#222" stroke-width="0.8" />
<line x1="194.16" y1="293.4" x2="194.16" y2="295.2" stroke="#222" stroke-width="0.8" />
<line x1="207.3" y1="293.4" x2="207.3" y2="295.2" stroke="#222" stroke-width="0.8" />
<line x1="141.6" y1="304.5" x2="141.6" y2="353.15000000000003" stroke="#333" stroke-width="1.15" />
<line x1="141.6" y1="352.6" x2="207.3" y2="352.6" stroke="#222" stroke-width="1.05" />
<line x1="139.79999999999998" y1="352.6" x2="141.6" y2="352.6" stroke="#222" stroke-width="0.8" />
<line x1="139.79999999999998" y1="336.56666666666666" x2="141.6" y2="336.56666666666666" stroke="#222" stroke-width="0.8" />
<line x1="139.79999999999998" y1="320.53333333333336" x2="141.6" y2="320.53333333333336" stroke="#222" stroke-width="0.8" />
<line x1="139.79999999999998" y1="304.5" x2="141.6" y2="304.5" stroke="#222" stroke-width="0.8" />
<line x1="154.74" y1="352.6" x2="154.74" y2="354.40000000000003" stroke="#222" stroke-width="0.8" />
<line x1="167.88" y1="352.6" x2="167.88" y2="354.40000000000003" stroke="#222" stroke-width="0.8" />
<line x1="181.01999999999998" y1="352.6" x2="181.01999999999998" y2="354.40000000000003" stroke="#222" stroke-width="0.8" />
<line x1="194.16" y1="352.6" x2="194.16" y2="354.40000000000003" stroke="#222" stroke-width="0.8" />
<line x1="207.3" y1="352.6" x2="207.3" y2="354.40000000000003" stroke="#222" stroke-width="0.8" />
<line x1="141.6" y1="364.2" x2="141.6" y2="412.75" stroke="#333" stroke-width="1.15" />
<line x1="141.6" y1="412.2" x2="207.3" y2="412.2" stroke="#222" stroke-width="1.05" />
<line x1="139.79999999999998" y1="412.2" x2="141.6" y2="412.2" stroke="#222" stroke-width="0.8" />
<line x1="139.79999999999998" y1="396.2" x2="141.6" y2="396.2" stroke="#222" stroke-width="0.8" />
<line x1="139.79999999999998" y1="380.2" x2="141.6" y2="380.2" stroke="#222" stroke-width="0.8" />
<line x1="139.79999999999998" y1="364.2" x2="141.6" y2="364.2" stroke="#222" stroke-width="0.8" />
<line x1="154.74" y1="412.2" x2="154.74" y2="414.0" stroke="#222" stroke-width="0.8" />
<line x1="167.88" y1="412.2" x2="167.88" y2="414.0" stroke="#222" stroke-width="0.8" />
<line x1="181.01999999999998" y1="412.2" x2="181.01999999999998" y2="414.0" stroke="#222" stroke-width="0.8" />
<line x1="194.16" y1="412.2" x2="194.16" y2="414.0" stroke="#222" stroke-width="0.8" />
<line x1="207.3" y1="412.2" x2="207.3" y2="414.0" stroke="#222" stroke-width="0.8" />
<line x1="141.6" y1="423.4" x2="141.6" y2="471.65000000000003" stroke="#333" stroke-width="1.15" />
<line x1="141.6" y1="471.1" x2="207.3" y2="471.1" stroke="#222" stroke-width="1.05" />
<line x1="139.79999999999998" y1="471.1" x2="141.6" y2="471.1" stroke="#222" stroke-width="0.8" />
<line x1="139.79999999999998" y1="455.2" x2="141.6" y2="455.2" stroke="#222" stroke-width="0.8" />
<line x1="139.79999999999998" y1="439.3" x2="141.6" y2="439.3" stroke="#222" stroke-width="0.8" />
<line x1="139.79999999999998" y1="423.4" x2="141.6" y2="423.4" stroke="#222" stroke-width="0.8" />
<line x1="154.74" y1="471.1" x2="154.74" y2="472.90000000000003" stroke="#222" stroke-width="0.8" />
<line x1="167.88" y1="471.1" x2="167.88" y2="472.90000000000003" stroke="#222" stroke-width="0.8" />
<line x1="181.01999999999998" y1="471.1" x2="181.01999999999998" y2="472.90000000000003" stroke="#222" stroke-width="0.8" />
<line x1="194.16" y1="471.1" x2="194.16" y2="472.90000000000003" stroke="#222" stroke-width="0.8" />
<line x1="207.3" y1="471.1" x2="207.3" y2="472.90000000000003" stroke="#222" stroke-width="0.8" />
<line x1="214.6" y1="244.2" x2="214.6" y2="293.95" stroke="#333" stroke-width="1.15" />
<line x1="214.6" y1="293.4" x2="280.6" y2="293.4" stroke="#222" stroke-width="1.05" />
<line x1="212.79999999999998" y1="293.4" x2="214.6" y2="293.4" stroke="#222" stroke-width="0.8" />
<line x1="212.79999999999998" y1="277.0" x2="214.6" y2="277.0" stroke="#222" stroke-width="0.8" />
<line x1="212.79999999999998" y1="260.59999999999997" x2="214.6" y2="260.59999999999997" stroke="#222" stroke-width="0.8" />
<line x1="212.79999999999998" y1="244.2" x2="214.6" y2="244.2" stroke="#222" stroke-width="0.8" />
<line x1="231.1" y1="293.4" x2="231.1" y2="295.2" stroke="#222" stroke-width="0.8" />
<line x1="247.6" y1="293.4" x2="247.6" y2="295.2" stroke="#222" stroke-width="0.8" />
<line x1="264.1" y1="293.4" x2="264.1" y2="295.2" stroke="#222" stroke-width="0.8" />
<line x1="280.6" y1="293.4" x2="280.6" y2="295.2" stroke="#222" stroke-width="0.8" />
<line x1="214.6" y1="304.5" x2="214.6" y2="353.15000000000003" stroke="#333" stroke-width="1.15" />
<line x1="214.6" y1="352.6" x2="280.6" y2="352.6" stroke="#222" stroke-width="1.05" />
<line x1="212.79999999999998" y1="352.6" x2="214.6" y2="352.6" stroke="#222" stroke-width="0.8" />
<line x1="212.79999999999998" y1="336.56666666666666" x2="214.6" y2="336.56666666666666" stroke="#222" stroke-width="0.8" />
<line x1="212.79999999999998" y1="320.53333333333336" x2="214.6" y2="320.53333333333336" stroke="#222" stroke-width="0.8" />
<line x1="212.79999999999998" y1="304.5" x2="214.6" y2="304.5" stroke="#222" stroke-width="0.8" />
<line x1="231.1" y1="352.6" x2="231.1" y2="354.40000000000003" stroke="#222" stroke-width="0.8" />
<line x1="247.6" y1="352.6" x2="247.6" y2="354.40000000000003" stroke="#222" stroke-width="0.8" />
<line x1="264.1" y1="352.6" x2="264.1" y2="354.40000000000003" stroke="#222" stroke-width="0.8" />
<line x1="280.6" y1="352.6" x2="280.6" y2="354.40000000000003" stroke="#222" stroke-width="0.8" />
<line x1="214.6" y1="364.2" x2="214.6" y2="412.75" stroke="#333" stroke-width="1.15" />
<line x1="214.6" y1="412.2" x2="280.6" y2="412.2" stroke="#222" stroke-width="1.05" />
<line x1="212.79999999999998" y1="412.2" x2="214.6" y2="412.2" stroke="#222" stroke-width="0.8" />
<line x1="212.79999999999998" y1="396.2" x2="214.6" y2="396.2" stroke="#222" stroke-width="0.8" />
<line x1="212.79999999999998" y1="380.2" x2="214.6" y2="380.2" stroke="#222" stroke-width="0.8" />
<line x1="212.79999999999998" y1="364.2" x2="214.6" y2="364.2" stroke="#222" stroke-width="0.8" />
<line x1="231.1" y1="412.2" x2="231.1" y2="414.0" stroke="#222" stroke-width="0.8" />
<line x1="247.6" y1="412.2" x2="247.6" y2="414.0" stroke="#222" stroke-width="0.8" />
<line x1="264.1" y1="412.2" x2="264.1" y2="414.0" stroke="#222" stroke-width="0.8" />
<line x1="280.6" y1="412.2" x2="280.6" y2="414.0" stroke="#222" stroke-width="0.8" />
<line x1="214.6" y1="423.4" x2="214.6" y2="471.65000000000003" stroke="#333" stroke-width="1.15" />
<line x1="214.6" y1="471.1" x2="280.6" y2="471.1" stroke="#222" stroke-width="1.05" />
<line x1="212.79999999999998" y1="471.1" x2="214.6" y2="471.1" stroke="#222" stroke-width="0.8" />
<line x1="212.79999999999998" y1="455.2" x2="214.6" y2="455.2" stroke="#222" stroke-width="0.8" />
<line x1="212.79999999999998" y1="439.3" x2="214.6" y2="439.3" stroke="#222" stroke-width="0.8" />
<line x1="212.79999999999998" y1="423.4" x2="214.6" y2="423.4" stroke="#222" stroke-width="0.8" />
<line x1="231.1" y1="471.1" x2="231.1" y2="472.90000000000003" stroke="#222" stroke-width="0.8" />
<line x1="247.6" y1="471.1" x2="247.6" y2="472.90000000000003" stroke="#222" stroke-width="0.8" />
<line x1="264.1" y1="471.1" x2="264.1" y2="472.90000000000003" stroke="#222" stroke-width="0.8" />
<line x1="280.6" y1="471.1" x2="280.6" y2="472.90000000000003" stroke="#222" stroke-width="0.8" />
<line x1="299.2" y1="241.8" x2="299.2" y2="293.05" stroke="#333" stroke-width="1.15" />
<line x1="299.2" y1="292.5" x2="366.6" y2="292.5" stroke="#222" stroke-width="1.05" />
<line x1="297.4" y1="292.5" x2="299.2" y2="292.5" stroke="#222" stroke-width="0.8" />
<line x1="297.4" y1="284.05" x2="299.2" y2="284.05" stroke="#222" stroke-width="0.8" />
<line x1="297.4" y1="275.6" x2="299.2" y2="275.6" stroke="#222" stroke-width="0.8" />
<line x1="297.4" y1="267.15" x2="299.2" y2="267.15" stroke="#222" stroke-width="0.8" />
<line x1="297.4" y1="258.7" x2="299.2" y2="258.7" stroke="#222" stroke-width="0.8" />
<line x1="297.4" y1="250.25" x2="299.2" y2="250.25" stroke="#222" stroke-width="0.8" />
<line x1="297.4" y1="241.8" x2="299.2" y2="241.8" stroke="#222" stroke-width="0.8" />
<line x1="316.05" y1="292.5" x2="316.05" y2="294.3" stroke="#222" stroke-width="0.8" />
<line x1="332.9" y1="292.5" x2="332.9" y2="294.3" stroke="#222" stroke-width="0.8" />
<line x1="349.75" y1="292.5" x2="349.75" y2="294.3" stroke="#222" stroke-width="0.8" />
<line x1="366.6" y1="292.5" x2="366.6" y2="294.3" stroke="#222" stroke-width="0.8" />
<line x1="299.2" y1="302.6" x2="299.2" y2="352.55" stroke="#333" stroke-width="1.15" />
<line x1="299.2" y1="352.0" x2="366.6" y2="352.0" stroke="#222" stroke-width="1.05" />
<line x1="297.4" y1="352.0" x2="299.2" y2="352.0" stroke="#222" stroke-width="0.8" />
<line x1="297.4" y1="343.76666666666665" x2="299.2" y2="343.76666666666665" stroke="#222" stroke-width="0.8" />
<line x1="297.4" y1="335.53333333333336" x2="299.2" y2="335.53333333333336" stroke="#222" stroke-width="0.8" />
<line x1="297.4" y1="327.3" x2="299.2" y2="327.3" stroke="#222" stroke-width="0.8" />
<line x1="297.4" y1="319.06666666666666" x2="299.2" y2="319.06666666666666" stroke="#222" stroke-width="0.8" />
<line x1="297.4" y1="310.83333333333337" x2="299.2" y2="310.83333333333337" stroke="#222" stroke-width="0.8" />
<line x1="297.4" y1="302.6" x2="299.2" y2="302.6" stroke="#222" stroke-width="0.8" />
<line x1="316.05" y1="352.0" x2="316.05" y2="353.8" stroke="#222" stroke-width="0.8" />
<line x1="332.9" y1="352.0" x2="332.9" y2="353.8" stroke="#222" stroke-width="0.8" />
<line x1="349.75" y1="352.0" x2="349.75" y2="353.8" stroke="#222" stroke-width="0.8" />
<line x1="366.6" y1="352.0" x2="366.6" y2="353.8" stroke="#222" stroke-width="0.8" />
<line x1="299.2" y1="361.0" x2="299.2" y2="412.05" stroke="#333" stroke-width="1.15" />
<line x1="299.2" y1="411.5" x2="366.6" y2="411.5" stroke="#222" stroke-width="1.05" />
<line x1="297.4" y1="411.5" x2="299.2" y2="411.5" stroke="#222" stroke-width="0.8" />
<line x1="297.4" y1="403.0833333333333" x2="299.2" y2="403.0833333333333" stroke="#222" stroke-width="0.8" />
<line x1="297.4" y1="394.6666666666667" x2="299.2" y2="394.6666666666667" stroke="#222" stroke-width="0.8" />
<line x1="297.4" y1="386.25" x2="299.2" y2="386.25" stroke="#222" stroke-width="0.8" />
<line x1="297.4" y1="377.8333333333333" x2="299.2" y2="377.8333333333333" stroke="#222" stroke-width="0.8" />
<line x1="297.4" y1="369.4166666666667" x2="299.2" y2="369.4166666666667" stroke="#222" stroke-width="0.8" />
<line x1="297.4" y1="361.0" x2="299.2" y2="361.0" stroke="#222" stroke-width="0.8" />
<line x1="316.05" y1="411.5" x2="316.05" y2="413.3" stroke="#222" stroke-width="0.8" />
<line x1="332.9" y1="411.5" x2="332.9" y2="413.3" stroke="#222" stroke-width="0.8" />
<line x1="349.75" y1="411.5" x2="349.75" y2="413.3" stroke="#222" stroke-width="0.8" />
<line x1="366.6" y1="411.5" x2="366.6" y2="413.3" stroke="#222" stroke-width="0.8" />
<line x1="299.2" y1="420.3" x2="299.2" y2="471.05" stroke="#333" stroke-width="1.15" />
<line x1="299.2" y1="470.5" x2="366.6" y2="470.5" stroke="#222" stroke-width="1.05" />
<line x1="297.4" y1="470.5" x2="299.2" y2="470.5" stroke="#222" stroke-width="0.8" />
<line x1="297.4" y1="462.1333333333333" x2="299.2" y2="462.1333333333333" stroke="#222" stroke-width="0.8" />
<line x1="297.4" y1="453.76666666666665" x2="299.2" y2="453.76666666666665" stroke="#222" stroke-width="0.8" />
<line x1="297.4" y1="445.4" x2="299.2" y2="445.4" stroke="#222" stroke-width="0.8" />
<line x1="297.4" y1="437.03333333333336" x2="299.2" y2="437.03333333333336" stroke="#222" stroke-width="0.8" />
<line x1="297.4" y1="428.6666666666667" x2="299.2" y2="428.6666666666667" stroke="#222" stroke-width="0.8" />
<line x1="297.4" y1="420.3" x2="299.2" y2="420.3" stroke="#222" stroke-width="0.8" />
<line x1="316.05" y1="470.5" x2="316.05" y2="472.3" stroke="#222" stroke-width="0.8" />
<line x1="332.9" y1="470.5" x2="332.9" y2="472.3" stroke="#222" stroke-width="0.8" />
<line x1="349.75" y1="470.5" x2="349.75" y2="472.3" stroke="#222" stroke-width="0.8" />
<line x1="366.6" y1="470.5" x2="366.6" y2="472.3" stroke="#222" stroke-width="0.8" />
<line x1="372.6" y1="241.8" x2="372.6" y2="293.05" stroke="#333" stroke-width="1.15" />
<line x1="372.6" y1="292.5" x2="441.6" y2="292.5" stroke="#222" stroke-width="1.05" />
<line x1="370.8" y1="292.5" x2="372.6" y2="292.5" stroke="#222" stroke-width="0.8" />
<line x1="370.8" y1="275.6" x2="372.6" y2="275.6" stroke="#222" stroke-width="0.8" />
<line x1="370.8" y1="258.7" x2="372.6" y2="258.7" stroke="#222" stroke-width="0.8" />
<line x1="370.8" y1="241.8" x2="372.6" y2="241.8" stroke="#222" stroke-width="0.8" />
<line x1="401.35" y1="292.5" x2="401.35" y2="294.3" stroke="#222" stroke-width="0.8" />
<line x1="430.1" y1="292.5" x2="430.1" y2="294.3" stroke="#222" stroke-width="0.8" />
<line x1="372.6" y1="302.6" x2="372.6" y2="352.55" stroke="#333" stroke-width="1.15" />
<line x1="372.6" y1="352.0" x2="441.6" y2="352.0" stroke="#222" stroke-width="1.05" />
<line x1="370.8" y1="352.0" x2="372.6" y2="352.0" stroke="#222" stroke-width="0.8" />
<line x1="370.8" y1="335.53333333333336" x2="372.6" y2="335.53333333333336" stroke="#222" stroke-width="0.8" />
<line x1="370.8" y1="319.06666666666666" x2="372.6" y2="319.06666666666666" stroke="#222" stroke-width="0.8" />
<line x1="370.8" y1="302.6" x2="372.6" y2="302.6" stroke="#222" stroke-width="0.8" />
<line x1="401.35" y1="352.0" x2="401.35" y2="353.8" stroke="#222" stroke-width="0.8" />
<line x1="430.1" y1="352.0" x2="430.1" y2="353.8" stroke="#222" stroke-width="0.8" />
<line x1="372.6" y1="361.0" x2="372.6" y2="412.05" stroke="#333" stroke-width="1.15" />
<line x1="372.6" y1="411.5" x2="441.6" y2="411.5" stroke="#222" stroke-width="1.05" />
<line x1="370.8" y1="411.5" x2="372.6" y2="411.5" stroke="#222" stroke-width="0.8" />
<line x1="370.8" y1="394.6666666666667" x2="372.6" y2="394.6666666666667" stroke="#222" stroke-width="0.8" />
<line x1="370.8" y1="377.8333333333333" x2="372.6" y2="377.8333333333333" stroke="#222" stroke-width="0.8" />
<line x1="370.8" y1="361.0" x2="372.6" y2="361.0" stroke="#222" stroke-width="0.8" />
<line x1="401.35" y1="411.5" x2="401.35" y2="413.3" stroke="#222" stroke-width="0.8" />
<line x1="430.1" y1="411.5" x2="430.1" y2="413.3" stroke="#222" stroke-width="0.8" />
<line x1="372.6" y1="420.3" x2="372.6" y2="471.05" stroke="#333" stroke-width="1.15" />
<line x1="372.6" y1="470.5" x2="441.6" y2="470.5" stroke="#222" stroke-width="1.05" />
<line x1="370.8" y1="470.5" x2="372.6" y2="470.5" stroke="#222" stroke-width="0.8" />
<line x1="370.8" y1="453.76666666666665" x2="372.6" y2="453.76666666666665" stroke="#222" stroke-width="0.8" />
<line x1="370.8" y1="437.03333333333336" x2="372.6" y2="437.03333333333336" stroke="#222" stroke-width="0.8" />
<line x1="370.8" y1="420.3" x2="372.6" y2="420.3" stroke="#222" stroke-width="0.8" />
<line x1="401.35" y1="470.5" x2="401.35" y2="472.3" stroke="#222" stroke-width="0.8" />
<line x1="430.1" y1="470.5" x2="430.1" y2="472.3" stroke="#222" stroke-width="0.8" />
<line x1="448.0" y1="241.8" x2="448.0" y2="293.05" stroke="#333" stroke-width="1.15" />
<line x1="448.0" y1="292.5" x2="514.6" y2="292.5" stroke="#222" stroke-width="1.05" />
<line x1="446.2" y1="292.5" x2="448.0" y2="292.5" stroke="#222" stroke-width="0.8" />
<line x1="446.2" y1="275.6" x2="448.0" y2="275.6" stroke="#222" stroke-width="0.8" />
<line x1="446.2" y1="258.7" x2="448.0" y2="258.7" stroke="#222" stroke-width="0.8" />
<line x1="446.2" y1="241.8" x2="448.0" y2="241.8" stroke="#222" stroke-width="0.8" />
<line x1="461.32" y1="292.5" x2="461.32" y2="294.3" stroke="#222" stroke-width="0.8" />
<line x1="474.64" y1="292.5" x2="474.64" y2="294.3" stroke="#222" stroke-width="0.8" />
<line x1="487.96" y1="292.5" x2="487.96" y2="294.3" stroke="#222" stroke-width="0.8" />
<line x1="501.28" y1="292.5" x2="501.28" y2="294.3" stroke="#222" stroke-width="0.8" />
<line x1="514.6" y1="292.5" x2="514.6" y2="294.3" stroke="#222" stroke-width="0.8" />
<line x1="448.0" y1="302.6" x2="448.0" y2="352.55" stroke="#333" stroke-width="1.15" />
<line x1="448.0" y1="352.0" x2="514.6" y2="352.0" stroke="#222" stroke-width="1.05" />
<line x1="446.2" y1="352.0" x2="448.0" y2="352.0" stroke="#222" stroke-width="0.8" />
<line x1="446.2" y1="335.53333333333336" x2="448.0" y2="335.53333333333336" stroke="#222" stroke-width="0.8" />
<line x1="446.2" y1="319.06666666666666" x2="448.0" y2="319.06666666666666" stroke="#222" stroke-width="0.8" />
<line x1="446.2" y1="302.6" x2="448.0" y2="302.6" stroke="#222" stroke-width="0.8" />
<line x1="461.32" y1="352.0" x2="461.32" y2="353.8" stroke="#222" stroke-width="0.8" />
<line x1="474.64" y1="352.0" x2="474.64" y2="353.8" stroke="#222" stroke-width="0.8" />
<line x1="487.96" y1="352.0" x2="487.96" y2="353.8" stroke="#222" stroke-width="0.8" />
<line x1="501.28" y1="352.0" x2="501.28" y2="353.8" stroke="#222" stroke-width="0.8" />
<line x1="514.6" y1="352.0" x2="514.6" y2="353.8" stroke="#222" stroke-width="0.8" />
<line x1="448.0" y1="361.0" x2="448.0" y2="412.05" stroke="#333" stroke-width="1.15" />
<line x1="448.0" y1="411.5" x2="514.6" y2="411.5" stroke="#222" stroke-width="1.05" />
<line x1="446.2" y1="411.5" x2="448.0" y2="411.5" stroke="#222" stroke-width="0.8" />
<line x1="446.2" y1="394.6666666666667" x2="448.0" y2="394.6666666666667" stroke="#222" stroke-width="0.8" />
<line x1="446.2" y1="377.8333333333333" x2="448.0" y2="377.8333333333333" stroke="#222" stroke-width="0.8" />
<line x1="446.2" y1="361.0" x2="448.0" y2="361.0" stroke="#222" stroke-width="0.8" />
<line x1="461.32" y1="411.5" x2="461.32" y2="413.3" stroke="#222" stroke-width="0.8" />
<line x1="474.64" y1="411.5" x2="474.64" y2="413.3" stroke="#222" stroke-width="0.8" />
<line x1="487.96" y1="411.5" x2="487.96" y2="413.3" stroke="#222" stroke-width="0.8" />
<line x1="501.28" y1="411.5" x2="501.28" y2="413.3" stroke="#222" stroke-width="0.8" />
<line x1="514.6" y1="411.5" x2="514.6" y2="413.3" stroke="#222" stroke-width="0.8" />
<line x1="448.0" y1="420.3" x2="448.0" y2="471.05" stroke="#333" stroke-width="1.15" />
<line x1="448.0" y1="470.5" x2="514.6" y2="470.5" stroke="#222" stroke-width="1.05" />
<line x1="446.2" y1="470.5" x2="448.0" y2="470.5" stroke="#222" stroke-width="0.8" />
<line x1="446.2" y1="453.76666666666665" x2="448.0" y2="453.76666666666665" stroke="#222" stroke-width="0.8" />
<line x1="446.2" y1="437.03333333333336" x2="448.0" y2="437.03333333333336" stroke="#222" stroke-width="0.8" />
<line x1="446.2" y1="420.3" x2="448.0" y2="420.3" stroke="#222" stroke-width="0.8" />
<line x1="461.32" y1="470.5" x2="461.32" y2="472.3" stroke="#222" stroke-width="0.8" />
<line x1="474.64" y1="470.5" x2="474.64" y2="472.3" stroke="#222" stroke-width="0.8" />
<line x1="487.96" y1="470.5" x2="487.96" y2="472.3" stroke="#222" stroke-width="0.8" />
<line x1="501.28" y1="470.5" x2="501.28" y2="472.3" stroke="#222" stroke-width="0.8" />
<line x1="514.6" y1="470.5" x2="514.6" y2="472.3" stroke="#222" stroke-width="0.8" />
<text x="70.4" y="480" font-size="6" text-anchor="middle" fill="#333" >0</text>
<text x="132.7" y="480" font-size="6" text-anchor="middle" fill="#333" >500</text>
<text x="141.6" y="480" font-size="6" text-anchor="middle" fill="#333" >0</text>
<text x="202.5" y="480" font-size="6" text-anchor="middle" fill="#333" >25</text>
<text x="214.6" y="480" font-size="6" text-anchor="middle" fill="#333" >0</text>
<text x="277" y="480" font-size="6" text-anchor="middle" fill="#333" >20</text>
<text x="299.4" y="480" font-size="6" text-anchor="middle" fill="#333" >0</text>
<text x="360.8" y="480" font-size="6" text-anchor="middle" fill="#333" >2000</text>
<text x="373.5" y="480" font-size="6" text-anchor="middle" fill="#333" >0</text>
<text x="435" y="480" font-size="6" text-anchor="middle" fill="#333" >12,000</text>
<text x="449.5" y="480" font-size="6" text-anchor="middle" fill="#333" >0</text>
<text x="513.4" y="480" font-size="6" text-anchor="middle" fill="#333" >100</text>
<text x="109.8" y="250.4" font-size="5.95" fill="#222" >r=-0.767</text>
<text x="109.8" y="257.4" font-size="5.95" fill="#222" >P=0.048</text>
<text x="179.8" y="250.4" font-size="5.95" fill="#222" >r=-0.802</text>
<text x="179.8" y="257.4" font-size="5.95" fill="#222" >P=0.029</text>
<text x="254.8" y="250.4" font-size="5.95" fill="#222" >r=-0.840</text>
<text x="254.8" y="257.4" font-size="5.95" fill="#222" >P=0.018</text>
<text x="339.6" y="250.4" font-size="5.95" fill="#222" >r=-0.107</text>
<text x="339.6" y="257.4" font-size="5.95" fill="#222" >n.s.</text>
<text x="411.8" y="250.4" font-size="5.95" fill="#222" >r=0.180</text>
<text x="411.8" y="257.4" font-size="5.95" fill="#222" >n.s.</text>
<text x="489.0" y="250.4" font-size="5.95" fill="#222" >r=0.130</text>
<text x="489.0" y="257.4" font-size="5.95" fill="#222" >n.s.</text>
<text x="109.8" y="310.9" font-size="5.95" fill="#222" >r=-0.622</text>
<text x="109.8" y="318.3" font-size="5.95" fill="#222" >n.s.</text>
<text x="179.8" y="310.9" font-size="5.95" fill="#222" >r=-0.800</text>
<text x="179.8" y="318.3" font-size="5.95" fill="#222" >P=0.031</text>
<text x="254.8" y="310.9" font-size="5.95" fill="#222" >r=-0.826</text>
<text x="254.8" y="318.3" font-size="5.95" fill="#222" >P=0.022</text>
<text x="339.6" y="310.9" font-size="5.95" fill="#222" >r=-0.519</text>
<text x="339.6" y="318.3" font-size="5.95" fill="#222" >n.s</text>
<text x="411.8" y="310.9" font-size="5.95" fill="#222" >r=-0.588</text>
<text x="411.8" y="318.3" font-size="5.95" fill="#222" >n.s</text>
<text x="489.0" y="310.9" font-size="5.95" fill="#222" >r=-0.497</text>
<text x="489.0" y="318.3" font-size="5.95" fill="#222" >n.s</text>
<text x="109.8" y="370.2" font-size="5.95" fill="#222" >r=0.312</text>
<text x="109.8" y="376.8" font-size="5.95" fill="#222" >n.s.</text>
<text x="179.8" y="370.2" font-size="5.95" fill="#222" >r=0.590</text>
<text x="179.8" y="376.8" font-size="5.95" fill="#222" >n.s.</text>
<text x="254.8" y="370.2" font-size="5.95" fill="#222" >r=0.769</text>
<text x="254.8" y="376.8" font-size="5.95" fill="#222" >P=0.043</text>
<text x="339.6" y="370.2" font-size="5.95" fill="#222" >r=-0.087</text>
<text x="339.6" y="376.8" font-size="5.95" fill="#222" >n.s.</text>
<text x="411.8" y="370.2" font-size="5.95" fill="#222" >r=0.452</text>
<text x="411.8" y="376.8" font-size="5.95" fill="#222" >n.s.</text>
<text x="489.0" y="370.2" font-size="5.95" fill="#222" >r=0.786</text>
<text x="489.0" y="376.8" font-size="5.95" fill="#222" >n.s.</text>
<text x="109.8" y="428.8" font-size="5.95" fill="#222" >r=0.725</text>
<text x="109.8" y="435.8" font-size="5.95" fill="#222" >P=0.065</text>
<text x="179.8" y="428.8" font-size="5.95" fill="#222" >r=-0.135</text>
<text x="179.8" y="435.8" font-size="5.95" fill="#222" >n.s.</text>
<text x="254.8" y="428.8" font-size="5.95" fill="#222" >r=-0.215</text>
<text x="254.8" y="435.8" font-size="5.95" fill="#222" >n.s.</text>
<text x="339.6" y="428.8" font-size="5.95" fill="#222" >r=0.722</text>
<text x="339.6" y="435.8" font-size="5.95" fill="#222" >n.s</text>
<text x="411.8" y="428.8" font-size="5.95" fill="#222" >r=-0.721</text>
<text x="411.8" y="435.8" font-size="5.95" fill="#222" >n.s</text>
<text x="489.0" y="428.8" font-size="5.95" fill="#222" >r=-0.693</text>
<text x="489.0" y="435.8" font-size="5.95" fill="#222" >n.s</text>
<path d="M72 262.7 C74.33 263.78 81.33 267.40 86 269.2 C90.67 271.00 93.88 272.40 100 273.5 C106.12 274.60 118.92 275.42 122.7 275.8" stroke="#222" stroke-width="0.9" fill="none" stroke-dasharray="1.8 1.2"/>
<path d="M72 279.6 C73.67 279.83 78.67 279.93 82 281 C85.33 282.07 88.67 283.95 92 286 C95.33 288.05 100.33 292.08 102 293.3" stroke="#222" stroke-width="0.9" fill="none" stroke-dasharray="1.8 1.2"/>
<line x1="70.8" y1="270.8" x2="122.7" y2="292" stroke="#111" stroke-width="1.15" />
<circle cx="71" cy="260.8" r="1.15" fill="#000"/>
<circle cx="73.5" cy="266.5" r="1.15" fill="#000"/>
<circle cx="82" cy="281.5" r="1.15" fill="#000"/>
<circle cx="82" cy="283.5" r="1.15" fill="#000"/>
<circle cx="103" cy="286.8" r="1.15" fill="#000"/>
<circle cx="122.7" cy="286.8" r="1.15" fill="#000"/>
<path d="M142 259.5 C146.73 261.42 160.28 268.22 170.4 271 C180.52 273.78 197.32 275.33 202.7 276.2" stroke="#222" stroke-width="0.9" fill="none" stroke-dasharray="1.8 1.2"/>
<path d="M142 278 C146.73 279.03 162.98 281.65 170.4 284.2 C177.82 286.75 183.82 291.78 186.5 293.3" stroke="#222" stroke-width="0.9" fill="none" stroke-dasharray="1.8 1.2"/>
<line x1="141.5" y1="268.8" x2="202.7" y2="288.8" stroke="#111" stroke-width="1.15" />
<circle cx="141.5" cy="260.5" r="1.15" fill="#000"/>
<circle cx="141.5" cy="266.5" r="1.15" fill="#000"/>
<circle cx="141.5" cy="271" r="1.15" fill="#000"/>
<circle cx="173" cy="283.5" r="1.15" fill="#000"/>
<circle cx="170.5" cy="287" r="1.15" fill="#000"/>
<circle cx="189" cy="287" r="1.15" fill="#000"/>
<circle cx="202.5" cy="281" r="1.15" fill="#000"/>
<path d="M215 259.2 C218.83 261.00 230.17 267.17 238 270 C245.83 272.83 258.00 275.17 262 276.2" stroke="#222" stroke-width="0.9" fill="none" stroke-dasharray="1.8 1.2"/>
<path d="M215 276.2 C218.33 277.00 228.20 278.27 235 281 C241.80 283.73 252.33 290.67 255.8 292.6" stroke="#222" stroke-width="0.9" fill="none" stroke-dasharray="1.8 1.2"/>
<line x1="214.8" y1="267.5" x2="261.9" y2="286.4" stroke="#111" stroke-width="1.15" />
<circle cx="214.8" cy="259" r="1.15" fill="#000"/>
<circle cx="214.8" cy="265.5" r="1.15" fill="#000"/>
<circle cx="214.8" cy="270.5" r="1.15" fill="#000"/>
<circle cx="236.5" cy="286.3" r="1.15" fill="#000"/>
<circle cx="259.5" cy="281.5" r="1.15" fill="#000"/>
<circle cx="258" cy="283" r="1.15" fill="#000"/>
<circle cx="262" cy="286.4" r="1.15" fill="#000"/>
<path d="M300 277.7 C303.28 278.00 310.40 279.92 319.7 279.5 C329.00 279.08 349.78 275.92 355.8 275.2" stroke="#222" stroke-width="0.9" fill="none" stroke-dasharray="1.8 1.2"/>
<path d="M300 289.5 C303.28 289.17 311.28 287.05 319.7 287.5 C328.12 287.95 345.37 291.42 350.5 292.2" stroke="#222" stroke-width="0.9" fill="none" stroke-dasharray="1.8 1.2"/>
<line x1="298.9" y1="283.4" x2="355.8" y2="283.8" stroke="#111" stroke-width="1.15" />
<circle cx="298.9" cy="283.5" r="1.15" fill="#000"/>
<circle cx="306.5" cy="285.7" r="1.15" fill="#000"/>
<circle cx="319.5" cy="279.5" r="1.15" fill="#000"/>
<circle cx="321" cy="282.6" r="1.15" fill="#000"/>
<circle cx="356" cy="285.7" r="1.15" fill="#000"/>
<path d="M373 279.2 C375.67 279.47 378.25 281.25 389 280.8 C399.75 280.35 429.42 277.22 437.5 276.5" stroke="#222" stroke-width="0.9" fill="none" stroke-dasharray="1.8 1.2"/>
<path d="M373 290.6 C377.33 290.25 388.25 288.43 399 288.5 C409.75 288.57 431.08 290.58 437.5 291" stroke="#222" stroke-width="0.9" fill="none" stroke-dasharray="1.8 1.2"/>
<line x1="372.2" y1="284.6" x2="437.5" y2="283.4" stroke="#111" stroke-width="1.15" />
<circle cx="372.2" cy="285.7" r="1.15" fill="#000"/>
<circle cx="389.5" cy="280.8" r="1.15" fill="#000"/>
<circle cx="421" cy="286.5" r="1.15" fill="#000"/>
<circle cx="437.5" cy="282.9" r="1.15" fill="#000"/>
<path d="M450 277.7 C454.50 278.00 466.75 279.83 477 279.5 C487.25 279.17 505.75 276.33 511.5 275.7" stroke="#222" stroke-width="0.9" fill="none" stroke-dasharray="1.8 1.2"/>
<path d="M450 290.6 C454.50 290.08 466.75 287.50 477 287.5 C487.25 287.50 505.75 290.08 511.5 290.6" stroke="#222" stroke-width="0.9" fill="none" stroke-dasharray="1.8 1.2"/>
<line x1="449" y1="283.8" x2="511.5" y2="283.4" stroke="#111" stroke-width="1.15" />
<circle cx="449.5" cy="284.5" r="1.15" fill="#000"/>
<circle cx="452" cy="285.7" r="1.15" fill="#000"/>
<circle cx="477.5" cy="279.5" r="1.15" fill="#000"/>
<circle cx="496" cy="282.6" r="1.15" fill="#000"/>
<circle cx="511.5" cy="285.7" r="1.15" fill="#000"/>
<path d="M72 305 C73.33 306.78 76.87 313.28 80 315.7 C83.13 318.12 83.63 319.12 90.8 319.5 C97.97 319.88 117.63 318.25 123 318" stroke="#222" stroke-width="0.9" fill="none" stroke-dasharray="1.8 1.2"/>
<path d="M72 338.8 C73.33 338.92 77.00 338.47 80 339.5 C83.00 340.53 87.05 342.85 90 345 C92.95 347.15 96.42 351.17 97.7 352.4" stroke="#222" stroke-width="0.9" fill="none" stroke-dasharray="1.8 1.2"/>
<line x1="70.8" y1="321.8" x2="122.3" y2="347.5" stroke="#111" stroke-width="1.15" />
<circle cx="70.8" cy="304.8" r="1.15" fill="#000"/>
<circle cx="70.8" cy="309.8" r="1.15" fill="#000"/>
<circle cx="72.5" cy="328.8" r="1.15" fill="#000"/>
<circle cx="81" cy="340.6" r="1.15" fill="#000"/>
<circle cx="102.3" cy="340.8" r="1.15" fill="#000"/>
<circle cx="122" cy="339.8" r="1.15" fill="#000"/>
<path d="M142 304.5 C146.73 307.52 160.28 318.43 170.4 322.6 C180.52 326.77 197.32 328.35 202.7 329.5" stroke="#222" stroke-width="0.9" fill="none" stroke-dasharray="1.8 1.2"/>
<path d="M142 332.6 C146.73 333.88 163.48 337.00 170.4 340.3 C177.32 343.60 181.32 350.38 183.5 352.4" stroke="#222" stroke-width="0.9" fill="none" stroke-dasharray="1.8 1.2"/>
<line x1="141.9" y1="318" x2="202.7" y2="348.5" stroke="#111" stroke-width="1.15" />
<circle cx="141.9" cy="304.5" r="1.15" fill="#000"/>
<circle cx="141.9" cy="310" r="1.15" fill="#000"/>
<circle cx="170.4" cy="341" r="1.15" fill="#000"/>
<circle cx="173" cy="341" r="1.15" fill="#000"/>
<circle cx="202.3" cy="340.3" r="1.15" fill="#000"/>
<path d="M215 304.2 C218.97 307.00 230.87 316.78 238.8 321 C246.73 325.22 258.63 328.08 262.6 329.5" stroke="#222" stroke-width="0.9" fill="none" stroke-dasharray="1.8 1.2"/>
<path d="M215 330.8 C218.45 332.13 229.17 335.20 235.7 338.8 C242.23 342.40 251.12 350.13 254.2 352.4" stroke="#222" stroke-width="0.9" fill="none" stroke-dasharray="1.8 1.2"/>
<line x1="214.9" y1="317.2" x2="262.6" y2="344.2" stroke="#111" stroke-width="1.15" />
<circle cx="214.9" cy="304.5" r="1.15" fill="#000"/>
<circle cx="214.9" cy="310" r="1.15" fill="#000"/>
<circle cx="214.9" cy="328.8" r="1.15" fill="#000"/>
<circle cx="236.5" cy="340.3" r="1.15" fill="#000"/>
<circle cx="258.5" cy="341.5" r="1.15" fill="#000"/>
<circle cx="260" cy="343" r="1.15" fill="#000"/>
<circle cx="262.5" cy="342" r="1.15" fill="#000"/>
<path d="M307.4 302.6 C310.73 304.35 319.58 313.15 327.4 313.1 C335.22 313.05 349.82 304.10 354.3 302.3" stroke="#222" stroke-width="0.9" fill="none" stroke-dasharray="1.8 1.2"/>
<line x1="298.9" y1="325.7" x2="356.3" y2="346.9" stroke="#111" stroke-width="1.15" />
<circle cx="306.5" cy="340.8" r="1.15" fill="#000"/>
<circle cx="319.2" cy="339.5" r="1.15" fill="#000"/>
<circle cx="321.3" cy="340.8" r="1.15" fill="#000"/>
<circle cx="356.5" cy="339.8" r="1.15" fill="#000"/>
<path d="M382.2 302.3 C386.42 303.95 398.28 311.88 407.5 312.2 C416.72 312.52 432.50 305.53 437.5 304.2" stroke="#222" stroke-width="0.9" fill="none" stroke-dasharray="1.8 1.2"/>
<line x1="372.9" y1="326.2" x2="437.5" y2="342.9" stroke="#111" stroke-width="1.15" />
<circle cx="372.9" cy="339.5" r="1.15" fill="#000"/>
<circle cx="389.8" cy="339.2" r="1.15" fill="#000"/>
<circle cx="421.5" cy="339.5" r="1.15" fill="#000"/>
<circle cx="438" cy="339.8" r="1.15" fill="#000"/>
<path d="M462.3 301.8 C466.42 303.73 478.67 312.62 487 313.4 C495.33 314.18 508.08 307.65 512.3 306.5" stroke="#222" stroke-width="0.9" fill="none" stroke-dasharray="1.8 1.2"/>
<line x1="451" y1="324.2" x2="512.3" y2="344.2" stroke="#111" stroke-width="1.15" />
<circle cx="450.8" cy="304.9" r="1.15" fill="#000"/>
<circle cx="453" cy="340.3" r="1.15" fill="#000"/>
<circle cx="477.8" cy="339.2" r="1.15" fill="#000"/>
<circle cx="496.5" cy="339.8" r="1.15" fill="#000"/>
<circle cx="512.5" cy="339.2" r="1.15" fill="#000"/>
<path d="M72 393.4 C73.58 393.53 76.83 394.77 81.5 394.2 C86.17 393.63 93.20 391.93 100 390 C106.80 388.07 118.58 383.83 122.3 382.6" stroke="#222" stroke-width="0.9" fill="none" stroke-dasharray="1.8 1.2"/>
<path d="M72 408.8 C74.33 408.15 77.62 404.78 86 404.9 C94.38 405.02 116.25 408.73 122.3 409.5" stroke="#222" stroke-width="0.9" fill="none" stroke-dasharray="1.8 1.2"/>
<line x1="70.5" y1="400.8" x2="122.3" y2="396.2" stroke="#111" stroke-width="1.15" />
<circle cx="81" cy="388.5" r="1.15" fill="#000"/>
<circle cx="81" cy="398.3" r="1.15" fill="#000"/>
<circle cx="70.5" cy="403.5" r="1.15" fill="#000"/>
<circle cx="72.5" cy="403.5" r="1.15" fill="#000"/>
<circle cx="70.5" cy="406.5" r="1.15" fill="#000"/>
<circle cx="102.3" cy="399" r="1.15" fill="#000"/>
<circle cx="122" cy="398.3" r="1.15" fill="#000"/>
<path d="M142 395.4 C145.97 395.32 155.73 396.72 165.8 394.9 C175.87 393.08 196.30 386.23 202.4 384.5" stroke="#222" stroke-width="0.9" fill="none" stroke-dasharray="1.8 1.2"/>
<path d="M142 410 C146.47 409.15 158.73 405.93 168.8 404.9 C178.87 403.87 196.80 403.98 202.4 403.8" stroke="#222" stroke-width="0.9" fill="none" stroke-dasharray="1.8 1.2"/>
<line x1="141.5" y1="402.6" x2="202.4" y2="394.2" stroke="#111" stroke-width="1.15" />
<circle cx="141.5" cy="403" r="1.15" fill="#000"/>
<circle cx="141.5" cy="406.5" r="1.15" fill="#000"/>
<circle cx="172.5" cy="388" r="1.15" fill="#000"/>
<circle cx="170.5" cy="398" r="1.15" fill="#000"/>
<circle cx="189" cy="398.8" r="1.15" fill="#000"/>
<circle cx="202.3" cy="398" r="1.15" fill="#000"/>
<path d="M215 398 C218.45 397.48 227.95 396.62 235.7 394.9 C243.45 393.18 257.20 388.90 261.5 387.7" stroke="#222" stroke-width="0.9" fill="none" stroke-dasharray="1.8 1.2"/>
<path d="M215 409.5 C218.45 408.48 227.95 404.93 235.7 403.4 C243.45 401.87 257.20 400.82 261.5 400.3" stroke="#222" stroke-width="0.9" fill="none" stroke-dasharray="1.8 1.2"/>
<line x1="214.2" y1="403.7" x2="261.5" y2="394.2" stroke="#111" stroke-width="1.15" />
<circle cx="214.2" cy="403.5" r="1.15" fill="#000"/>
<circle cx="214.2" cy="406.5" r="1.15" fill="#000"/>
<circle cx="235.5" cy="398.3" r="1.15" fill="#000"/>
<circle cx="257" cy="388.3" r="1.15" fill="#000"/>
<circle cx="258.5" cy="397.7" r="1.15" fill="#000"/>
<circle cx="261.5" cy="398.8" r="1.15" fill="#000"/>
<path d="M300 384.9 C303.15 385.28 309.60 388.22 318.9 387.2 C328.20 386.18 349.65 380.20 355.8 378.8" stroke="#222" stroke-width="0.9" fill="none" stroke-dasharray="1.8 1.2"/>
<path d="M300 406.9 C303.80 406.32 313.50 402.70 322.8 403.4 C332.10 404.10 350.30 409.82 355.8 411.1" stroke="#222" stroke-width="0.9" fill="none" stroke-dasharray="1.8 1.2"/>
<line x1="298.9" y1="394.9" x2="355.8" y2="394.6" stroke="#111" stroke-width="1.15" />
<circle cx="298.9" cy="397.2" r="1.15" fill="#000"/>
<circle cx="306.5" cy="398.3" r="1.15" fill="#000"/>
<circle cx="319.2" cy="397.2" r="1.15" fill="#000"/>
<circle cx="321.3" cy="386.9" r="1.15" fill="#000"/>
<circle cx="356" cy="397.2" r="1.15" fill="#000"/>
<path d="M373 392.6 C376.97 392.42 386.12 393.12 396.8 391.5 C407.48 389.88 430.38 384.33 437.1 382.9" stroke="#222" stroke-width="0.9" fill="none" stroke-dasharray="1.8 1.2"/>
<path d="M373 405.7 C376.97 404.80 386.12 401.33 396.8 400.3 C407.48 399.27 430.38 399.63 437.1 399.5" stroke="#222" stroke-width="0.9" fill="none" stroke-dasharray="1.8 1.2"/>
<line x1="372.9" y1="399.2" x2="437.1" y2="391.1" stroke="#111" stroke-width="1.15" />
<circle cx="372.9" cy="398.3" r="1.15" fill="#000"/>
<circle cx="389.8" cy="397.7" r="1.15" fill="#000"/>
<circle cx="421.5" cy="398" r="1.15" fill="#000"/>
<circle cx="438.3" cy="387.7" r="1.15" fill="#000"/>
<path d="M451 386.5 C454.80 386.75 463.45 389.12 473.8 388 C484.15 386.88 506.55 381.17 513.1 379.8" stroke="#222" stroke-width="0.9" fill="none" stroke-dasharray="1.8 1.2"/>
<path d="M451 407.5 C456.87 406.43 475.85 401.65 486.2 401.1 C496.55 400.55 508.62 403.68 513.1 404.2" stroke="#222" stroke-width="0.9" fill="none" stroke-dasharray="1.8 1.2"/>
<line x1="451" y1="397.2" x2="513.1" y2="391.8" stroke="#111" stroke-width="1.15" />
<circle cx="451" cy="397.7" r="1.15" fill="#000"/>
<circle cx="454" cy="397.7" r="1.15" fill="#000"/>
<circle cx="478" cy="396.5" r="1.15" fill="#000"/>
<circle cx="497" cy="386.5" r="1.15" fill="#000"/>
<circle cx="513" cy="396.5" r="1.15" fill="#000"/>
<path d="M72 463.8 C73.58 463.60 73.25 464.47 81.5 462.6 C89.75 460.73 114.83 454.27 121.5 452.6" stroke="#222" stroke-width="0.9" fill="none" stroke-dasharray="1.8 1.2"/>
<path d="M72 470.6 C73.58 470.30 73.25 469.37 81.5 468.8 C89.75 468.23 114.83 467.47 121.5 467.2" stroke="#222" stroke-width="0.9" fill="none" stroke-dasharray="1.8 1.2"/>
<line x1="70.5" y1="468" x2="121.5" y2="459.5" stroke="#111" stroke-width="1.15" />
<circle cx="71" cy="468" r="1.15" fill="#000"/>
<circle cx="72.5" cy="467.5" r="1.15" fill="#000"/>
<circle cx="81" cy="461.8" r="1.15" fill="#000"/>
<circle cx="81" cy="468.8" r="1.15" fill="#000"/>
<circle cx="102.5" cy="467.2" r="1.15" fill="#000"/>
<circle cx="121.5" cy="457.7" r="1.15" fill="#000"/>
<path d="M142 458.8 C146.73 458.97 160.33 460.45 170.4 459.8 C180.47 459.15 197.07 455.72 202.4 454.9" stroke="#222" stroke-width="0.9" fill="none" stroke-dasharray="1.8 1.2"/>
<path d="M155 470.4 C157.50 470.25 164.83 469.50 170 469.5 C175.17 469.50 183.33 470.25 186 470.4" stroke="#222" stroke-width="0.9" fill="none" stroke-dasharray="1.8 1.2"/>
<line x1="141.2" y1="465.4" x2="202.4" y2="463.8" stroke="#111" stroke-width="1.15" />
<circle cx="141.2" cy="467" r="1.15" fill="#000"/>
<circle cx="141.2" cy="469" r="1.15" fill="#000"/>
<circle cx="170.5" cy="456.8" r="1.15" fill="#000"/>
<circle cx="172.5" cy="460.8" r="1.15" fill="#000"/>
<circle cx="189" cy="466.9" r="1.15" fill="#000"/>
<circle cx="202.3" cy="468" r="1.15" fill="#000"/>
<path d="M215 459.2 C218.45 459.38 227.95 460.80 235.7 460.3 C243.45 459.80 257.20 456.88 261.5 456.2" stroke="#222" stroke-width="0.9" fill="none" stroke-dasharray="1.8 1.2"/>
<path d="M230 470.6 C232.50 470.47 240.00 469.83 245 469.8 C250.00 469.77 257.50 470.30 260 470.4" stroke="#222" stroke-width="0.9" fill="none" stroke-dasharray="1.8 1.2"/>
<line x1="213.8" y1="465.4" x2="261.5" y2="463.4" stroke="#111" stroke-width="1.15" />
<circle cx="213.8" cy="467" r="1.15" fill="#000"/>
<circle cx="213.8" cy="469" r="1.15" fill="#000"/>
<circle cx="235.5" cy="456.5" r="1.15" fill="#000"/>
<circle cx="256.5" cy="460.8" r="1.15" fill="#000"/>
<circle cx="258.5" cy="468" r="1.15" fill="#000"/>
<circle cx="261" cy="466.5" r="1.15" fill="#000"/>
<path d="M300 458.3 C303.28 458.25 310.27 460.05 319.7 458 C329.13 455.95 350.45 448.00 356.6 446" stroke="#222" stroke-width="0.9" fill="none" stroke-dasharray="1.8 1.2"/>
<path d="M315 469.5 C315.78 469.25 312.77 468.17 319.7 468 C326.63 467.83 350.45 468.42 356.6 468.5" stroke="#222" stroke-width="0.9" fill="none" stroke-dasharray="1.8 1.2"/>
<line x1="298.9" y1="466.5" x2="356.6" y2="457.2" stroke="#111" stroke-width="1.15" />
<circle cx="298.9" cy="462.6" r="1.15" fill="#000"/>
<circle cx="306.5" cy="466.2" r="1.15" fill="#000"/>
<circle cx="319.5" cy="460.3" r="1.15" fill="#000"/>
<circle cx="319.5" cy="468" r="1.15" fill="#000"/>
<circle cx="356.5" cy="456.2" r="1.15" fill="#000"/>
<path d="M373 458.3 C376.45 458.25 382.95 459.58 393.7 458 C404.45 456.42 430.20 450.33 437.5 448.8" stroke="#222" stroke-width="0.9" fill="none" stroke-dasharray="1.8 1.2"/>
<path d="M389.8 468.8 C393.17 468.67 402.05 468.13 410 468 C417.95 467.87 432.92 468.00 437.5 468" stroke="#222" stroke-width="0.9" fill="none" stroke-dasharray="1.8 1.2"/>
<line x1="372.9" y1="465.7" x2="437.5" y2="458.3" stroke="#111" stroke-width="1.15" />
<circle cx="372.9" cy="462.6" r="1.15" fill="#000"/>
<circle cx="372.9" cy="466" r="1.15" fill="#000"/>
<circle cx="389.8" cy="468" r="1.15" fill="#000"/>
<circle cx="421.5" cy="456.2" r="1.15" fill="#000"/>
<circle cx="438.3" cy="460.3" r="1.15" fill="#000"/>
<path d="M451.5 458.3 C455.75 458.30 466.73 459.88 477 458.3 C487.27 456.72 507.08 450.38 513.1 448.8" stroke="#222" stroke-width="0.9" fill="none" stroke-dasharray="1.8 1.2"/>
<path d="M467.7 470.2 C469.42 469.83 470.43 468.45 478 468 C485.57 467.55 507.25 467.58 513.1 467.5" stroke="#222" stroke-width="0.9" fill="none" stroke-dasharray="1.8 1.2"/>
<line x1="451.5" y1="466" x2="513.1" y2="458.3" stroke="#111" stroke-width="1.15" />
<circle cx="451.5" cy="462.6" r="1.15" fill="#000"/>
<circle cx="454" cy="466.5" r="1.15" fill="#000"/>
<circle cx="478.5" cy="468" r="1.15" fill="#000"/>
<circle cx="497" cy="459.8" r="1.15" fill="#000"/>
<circle cx="513" cy="455.7" r="1.15" fill="#000"/>
</g>
</svg></body></html>
